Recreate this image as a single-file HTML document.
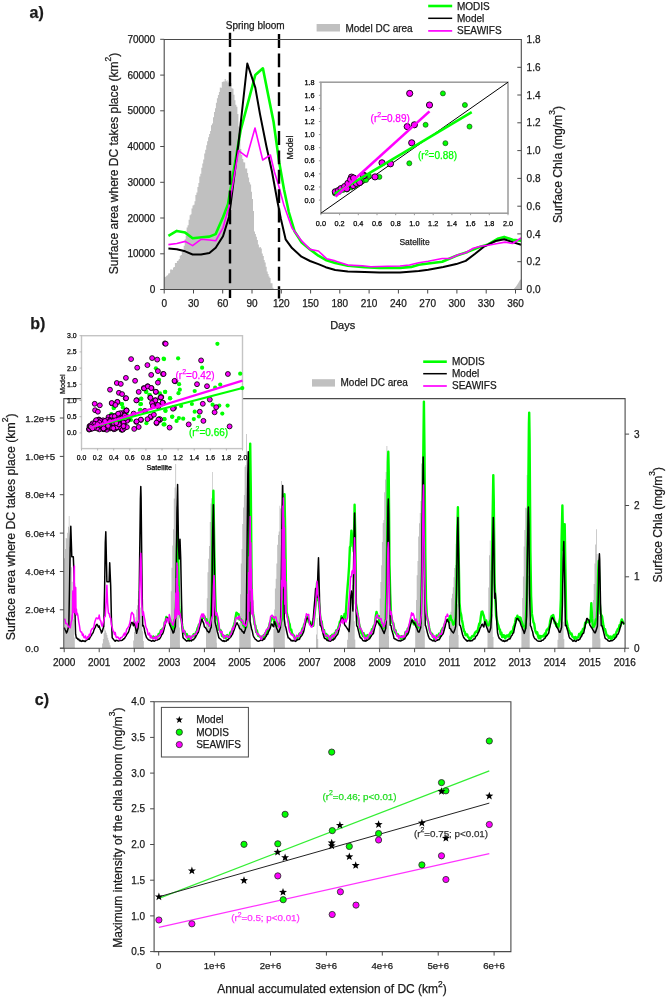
<!DOCTYPE html>
<html><head><meta charset="utf-8"><title>Figure</title>
<style>
html,body{margin:0;padding:0;background:#fff;}
body{width:666px;height:997px;overflow:hidden;}
svg{display:block;font-family:"Liberation Sans",sans-serif;will-change:transform;}
</style></head><body>
<svg width="666" height="997" viewBox="0 0 666 997">
<rect width="666" height="997" fill="#fff"/>
<text x="29.5" y="17.5" font-size="16" text-anchor="start" fill="#1a1a1a" stroke="#1a1a1a" stroke-width="0.25" font-weight="bold">a)</text>
<polygon points="164.2,289.5 164.2,277.3 165.2,277.3 165.2,276.7 166.2,276.7 166.2,275.8 167.1,275.8 167.1,275.3 168.1,275.3 168.1,273.6 169.1,273.6 169.1,273.2 170.1,273.2 170.1,269.4 171,269.4 171,269.5 172,269.5 172,269.7 173,269.7 173,267.4 174,267.4 174,267 174.9,267 174.9,263.1 175.9,263.1 175.9,263 176.9,263 176.9,260.9 177.9,260.9 177.9,260.4 178.8,260.4 178.8,259 179.8,259 179.8,255.7 180.8,255.7 180.8,254.9 181.8,254.9 181.8,252 182.7,252 182.7,250.1 183.7,250.1 183.7,245.7 184.7,245.7 184.7,239.3 185.7,239.3 185.7,235.5 186.6,235.5 186.6,227.6 187.6,227.6 187.6,225.2 188.6,225.2 188.6,219.7 189.6,219.7 189.6,215.3 190.6,215.3 190.6,214.2 191.5,214.2 191.5,208.6 192.5,208.6 192.5,205.5 193.5,205.5 193.5,204.8 194.5,204.8 194.5,201.2 195.4,201.2 195.4,194.9 196.4,194.9 196.4,192.6 197.4,192.6 197.4,186.9 198.4,186.9 198.4,182.9 199.3,182.9 199.3,176.6 200.3,176.6 200.3,173.7 201.3,173.7 201.3,167.7 202.3,167.7 202.3,163.6 203.2,163.6 203.2,159.4 204.2,159.4 204.2,153.6 205.2,153.6 205.2,149.8 206.2,149.8 206.2,145.3 207.1,145.3 207.1,141.3 208.1,141.3 208.1,137.2 209.1,137.2 209.1,134 210.1,134 210.1,131.1 211,131.1 211,125.3 212,125.3 212,123.5 213,123.5 213,117.2 214,117.2 214,111.9 215,111.9 215,108.3 215.9,108.3 215.9,102.8 216.9,102.8 216.9,98.3 217.9,98.3 217.9,95 218.9,95 218.9,92.1 219.8,92.1 219.8,87.4 220.8,87.4 220.8,87.7 221.8,87.7 221.8,82 222.8,82 222.8,81.6 223.7,81.6 223.7,81.5 224.7,81.5 224.7,78.9 225.7,78.9 225.7,81.3 226.7,81.3 226.7,80.3 227.6,80.3 227.6,82.5 228.6,82.5 228.6,81.3 229.6,81.3 229.6,82 230.6,82 230.6,83.1 231.5,83.1 231.5,88.2 232.5,88.2 232.5,88.7 233.5,88.7 233.5,94.8 234.5,94.8 234.5,100.3 235.4,100.3 235.4,104.7 236.4,104.7 236.4,106.7 237.4,106.7 237.4,113.9 238.4,113.9 238.4,126.4 239.4,126.4 239.4,139.2 240.3,139.2 240.3,149.1 241.3,149.1 241.3,155.1 242.3,155.1 242.3,159.1 243.3,159.1 243.3,162.2 244.2,162.2 244.2,162.5 245.2,162.5 245.2,168.4 246.2,168.4 246.2,168.6 247.2,168.6 247.2,172.9 248.1,172.9 248.1,177.5 249.1,177.5 249.1,182.3 250.1,182.3 250.1,184.4 251.1,184.4 251.1,191.7 252,191.7 252,199.1 253,199.1 253,210.9 254,210.9 254,231.6 255,231.6 255,234.1 255.9,234.1 255.9,236.7 256.9,236.7 256.9,239.9 257.9,239.9 257.9,244.6 258.9,244.6 258.9,247.6 259.8,247.6 259.8,246.9 260.8,246.9 260.8,248.5 261.8,248.5 261.8,253.4 262.8,253.4 262.8,256 263.8,256 263.8,260 264.7,260 264.7,262.4 265.7,262.4 265.7,266.8 266.7,266.8 266.7,271.5 267.7,271.5 267.7,274 268.6,274 268.6,276.5 269.6,276.5 269.6,277.9 270.6,277.9 270.6,283.2 271.6,283.2 271.6,283.2 272.5,283.2 272.5,287.7 273.5,287.7 273.5,289.2 274,289.2 274,289.5" fill="#c0c0c0"/>
<polygon points="513.4,289.5 516,286.5 518,283.5 520,280 521.3,279 521.3,289.5" fill="#c0c0c0"/>
<polyline points="168.4,235.8 176.8,230.9 185.2,232.6 192.6,238.3 202,237.2 209.4,236.6 215.7,234.1 223,217.3 228,204.3 240.6,130.5 255.3,75 262.9,68.3 267.2,90 273.6,122.1 279.2,162.2 284,189.5 288.8,212 294.5,231.2 301.7,242.5 310,249.4 318.4,255.7 325.7,259.9 335.2,263 347.8,265.8 364.6,267.2 379.3,267.9 400,267.9 411.3,266.9 418.8,264.7 428.2,263.5 442.2,261.7 456.3,255.7 467.6,251.9 478.8,247.2 488.2,244.4 497.6,238.8 504.2,236.9 512.6,239.7 521.1,240.6" fill="none" stroke="#00ff00" stroke-width="2.6" stroke-linejoin="round"/>
<polyline points="168.4,248.4 176.8,249.2 185.2,251.3 192.6,254.5 201,254.5 209.4,253 215.7,247.7 223,236.2 229,217 238.5,143.2 247.3,63.5 255.3,87.6 260,114.1 266.4,146.2 272,171.8 277.6,202.3 280.8,218.4 285.6,239.3 292,248.1 301.5,256.7 310,261 318.4,264.1 325.7,267.2 335.2,270 347.8,271.4 364.6,271.9 379.3,272.5 400,272.6 418.8,271 428.2,269.7 443.2,266.9 456.3,264.1 465.7,260.9 475.1,253.8 484.5,246.3 495.7,241 504.2,239.3 512.6,242.1 521.1,244.8" fill="none" stroke="#000" stroke-width="2.0" stroke-linejoin="round"/>
<polyline points="168.4,244.6 176.8,243.5 185.2,241.4 192.6,245.6 201,239.3 209.4,240 215.7,240.8 223,227.8 229,206.4 238.5,150.6 246.9,156.9 255,128 262.7,160 270.4,155 274.4,171.8 278.4,184.7 284,205.6 292,228 301.7,240.9 310,249.4 318.4,251 326.8,258.8 335.2,260.9 347.8,265.1 362.5,265.8 370.9,266.8 387.7,266.2 400,266 409.4,265 418.8,262.8 428.2,261.3 442.2,258.5 449.7,258.5 458.2,254.7 465.7,252.8 473.2,248.2 480.7,246.3 488.2,245.3 497.6,243.5 505.1,242.1 512.6,243.5 521.1,237.8" fill="none" stroke="#ff00ff" stroke-width="1.6" stroke-linejoin="round"/>
<line x1="230" y1="32.8" x2="230" y2="298" stroke="#000" stroke-width="2.4" stroke-dasharray="14.1 5.6"/>
<line x1="279" y1="34" x2="279" y2="298.5" stroke="#000" stroke-width="2.4" stroke-dasharray="13.9 5.5"/>
<text x="255.2" y="29" font-size="10" text-anchor="middle" fill="#1a1a1a" stroke="#1a1a1a" stroke-width="0.25">Spring bloom</text>
<path d="M164.2 39.5 H521.3 V289.5 H164.2 Z" fill="none" stroke="#4a4a4a" stroke-width="1.1"/>
<line x1="160.2" y1="289.5" x2="164.2" y2="289.5" stroke="#4a4a4a" stroke-width="1"/>
<text x="155.2" y="293.1" font-size="10" text-anchor="end" fill="#1a1a1a" stroke="#1a1a1a" stroke-width="0.25">0</text>
<line x1="160.2" y1="253.8" x2="164.2" y2="253.8" stroke="#4a4a4a" stroke-width="1"/>
<text x="155.2" y="257.4" font-size="10" text-anchor="end" fill="#1a1a1a" stroke="#1a1a1a" stroke-width="0.25">10000</text>
<line x1="160.2" y1="218" x2="164.2" y2="218" stroke="#4a4a4a" stroke-width="1"/>
<text x="155.2" y="221.6" font-size="10" text-anchor="end" fill="#1a1a1a" stroke="#1a1a1a" stroke-width="0.25">20000</text>
<line x1="160.2" y1="182.3" x2="164.2" y2="182.3" stroke="#4a4a4a" stroke-width="1"/>
<text x="155.2" y="185.9" font-size="10" text-anchor="end" fill="#1a1a1a" stroke="#1a1a1a" stroke-width="0.25">30000</text>
<line x1="160.2" y1="146.5" x2="164.2" y2="146.5" stroke="#4a4a4a" stroke-width="1"/>
<text x="155.2" y="150.1" font-size="10" text-anchor="end" fill="#1a1a1a" stroke="#1a1a1a" stroke-width="0.25">40000</text>
<line x1="160.2" y1="110.8" x2="164.2" y2="110.8" stroke="#4a4a4a" stroke-width="1"/>
<text x="155.2" y="114.4" font-size="10" text-anchor="end" fill="#1a1a1a" stroke="#1a1a1a" stroke-width="0.25">50000</text>
<line x1="160.2" y1="75.1" x2="164.2" y2="75.1" stroke="#4a4a4a" stroke-width="1"/>
<text x="155.2" y="78.7" font-size="10" text-anchor="end" fill="#1a1a1a" stroke="#1a1a1a" stroke-width="0.25">60000</text>
<line x1="160.2" y1="39.3" x2="164.2" y2="39.3" stroke="#4a4a4a" stroke-width="1"/>
<text x="155.2" y="42.9" font-size="10" text-anchor="end" fill="#1a1a1a" stroke="#1a1a1a" stroke-width="0.25">70000</text>
<line x1="517.3" y1="289.5" x2="521.3" y2="289.5" stroke="#4a4a4a" stroke-width="1"/>
<text x="526.6" y="293.1" font-size="10" text-anchor="start" fill="#1a1a1a" stroke="#1a1a1a" stroke-width="0.25">0.0</text>
<line x1="517.3" y1="261.7" x2="521.3" y2="261.7" stroke="#4a4a4a" stroke-width="1"/>
<text x="526.6" y="265.3" font-size="10" text-anchor="start" fill="#1a1a1a" stroke="#1a1a1a" stroke-width="0.25">0.2</text>
<line x1="517.3" y1="233.9" x2="521.3" y2="233.9" stroke="#4a4a4a" stroke-width="1"/>
<text x="526.6" y="237.5" font-size="10" text-anchor="start" fill="#1a1a1a" stroke="#1a1a1a" stroke-width="0.25">0.4</text>
<line x1="517.3" y1="206.2" x2="521.3" y2="206.2" stroke="#4a4a4a" stroke-width="1"/>
<text x="526.6" y="209.8" font-size="10" text-anchor="start" fill="#1a1a1a" stroke="#1a1a1a" stroke-width="0.25">0.6</text>
<line x1="517.3" y1="178.4" x2="521.3" y2="178.4" stroke="#4a4a4a" stroke-width="1"/>
<text x="526.6" y="182" font-size="10" text-anchor="start" fill="#1a1a1a" stroke="#1a1a1a" stroke-width="0.25">0.8</text>
<line x1="517.3" y1="150.6" x2="521.3" y2="150.6" stroke="#4a4a4a" stroke-width="1"/>
<text x="526.6" y="154.2" font-size="10" text-anchor="start" fill="#1a1a1a" stroke="#1a1a1a" stroke-width="0.25">1.0</text>
<line x1="517.3" y1="122.8" x2="521.3" y2="122.8" stroke="#4a4a4a" stroke-width="1"/>
<text x="526.6" y="126.4" font-size="10" text-anchor="start" fill="#1a1a1a" stroke="#1a1a1a" stroke-width="0.25">1.2</text>
<line x1="517.3" y1="95" x2="521.3" y2="95" stroke="#4a4a4a" stroke-width="1"/>
<text x="526.6" y="98.6" font-size="10" text-anchor="start" fill="#1a1a1a" stroke="#1a1a1a" stroke-width="0.25">1.4</text>
<line x1="517.3" y1="67.3" x2="521.3" y2="67.3" stroke="#4a4a4a" stroke-width="1"/>
<text x="526.6" y="70.9" font-size="10" text-anchor="start" fill="#1a1a1a" stroke="#1a1a1a" stroke-width="0.25">1.6</text>
<line x1="517.3" y1="39.5" x2="521.3" y2="39.5" stroke="#4a4a4a" stroke-width="1"/>
<text x="526.6" y="43.1" font-size="10" text-anchor="start" fill="#1a1a1a" stroke="#1a1a1a" stroke-width="0.25">1.8</text>
<line x1="164.2" y1="289.5" x2="164.2" y2="293.5" stroke="#4a4a4a" stroke-width="1"/>
<text x="164.2" y="307.2" font-size="10" text-anchor="middle" fill="#1a1a1a" stroke="#1a1a1a" stroke-width="0.25">0</text>
<line x1="193.5" y1="289.5" x2="193.5" y2="293.5" stroke="#4a4a4a" stroke-width="1"/>
<text x="193.5" y="307.2" font-size="10" text-anchor="middle" fill="#1a1a1a" stroke="#1a1a1a" stroke-width="0.25">30</text>
<line x1="222.7" y1="289.5" x2="222.7" y2="293.5" stroke="#4a4a4a" stroke-width="1"/>
<text x="222.7" y="307.2" font-size="10" text-anchor="middle" fill="#1a1a1a" stroke="#1a1a1a" stroke-width="0.25">60</text>
<line x1="252" y1="289.5" x2="252" y2="293.5" stroke="#4a4a4a" stroke-width="1"/>
<text x="252" y="307.2" font-size="10" text-anchor="middle" fill="#1a1a1a" stroke="#1a1a1a" stroke-width="0.25">90</text>
<line x1="281.3" y1="289.5" x2="281.3" y2="293.5" stroke="#4a4a4a" stroke-width="1"/>
<text x="281.3" y="307.2" font-size="10" text-anchor="middle" fill="#1a1a1a" stroke="#1a1a1a" stroke-width="0.25">120</text>
<line x1="310.6" y1="289.5" x2="310.6" y2="293.5" stroke="#4a4a4a" stroke-width="1"/>
<text x="310.6" y="307.2" font-size="10" text-anchor="middle" fill="#1a1a1a" stroke="#1a1a1a" stroke-width="0.25">150</text>
<line x1="339.8" y1="289.5" x2="339.8" y2="293.5" stroke="#4a4a4a" stroke-width="1"/>
<text x="339.8" y="307.2" font-size="10" text-anchor="middle" fill="#1a1a1a" stroke="#1a1a1a" stroke-width="0.25">180</text>
<line x1="369.1" y1="289.5" x2="369.1" y2="293.5" stroke="#4a4a4a" stroke-width="1"/>
<text x="369.1" y="307.2" font-size="10" text-anchor="middle" fill="#1a1a1a" stroke="#1a1a1a" stroke-width="0.25">210</text>
<line x1="398.4" y1="289.5" x2="398.4" y2="293.5" stroke="#4a4a4a" stroke-width="1"/>
<text x="398.4" y="307.2" font-size="10" text-anchor="middle" fill="#1a1a1a" stroke="#1a1a1a" stroke-width="0.25">240</text>
<line x1="427.7" y1="289.5" x2="427.7" y2="293.5" stroke="#4a4a4a" stroke-width="1"/>
<text x="427.7" y="307.2" font-size="10" text-anchor="middle" fill="#1a1a1a" stroke="#1a1a1a" stroke-width="0.25">270</text>
<line x1="456.9" y1="289.5" x2="456.9" y2="293.5" stroke="#4a4a4a" stroke-width="1"/>
<text x="456.9" y="307.2" font-size="10" text-anchor="middle" fill="#1a1a1a" stroke="#1a1a1a" stroke-width="0.25">300</text>
<line x1="486.2" y1="289.5" x2="486.2" y2="293.5" stroke="#4a4a4a" stroke-width="1"/>
<text x="486.2" y="307.2" font-size="10" text-anchor="middle" fill="#1a1a1a" stroke="#1a1a1a" stroke-width="0.25">330</text>
<line x1="515.5" y1="289.5" x2="515.5" y2="293.5" stroke="#4a4a4a" stroke-width="1"/>
<text x="515.5" y="307.2" font-size="10" text-anchor="middle" fill="#1a1a1a" stroke="#1a1a1a" stroke-width="0.25">360</text>
<text x="342.7" y="328.5" font-size="11" text-anchor="middle" fill="#1a1a1a" stroke="#1a1a1a" stroke-width="0.25">Days</text>
<text x="114.2" y="163.5" font-size="12" text-anchor="middle" fill="#1a1a1a" stroke="#1a1a1a" stroke-width="0.25" transform="rotate(-90 114.2 163.5)" dominant-baseline="central">Surface area where DC takes place (km<tspan font-size="0.7em" dy="-0.7em">2</tspan><tspan dy="0.49em">)</tspan></text>
<text x="557.8" y="164.5" font-size="12.2" text-anchor="middle" fill="#1a1a1a" stroke="#1a1a1a" stroke-width="0.25" transform="rotate(-90 557.8 164.5)" dominant-baseline="central">Surface Chla (mg/m<tspan font-size="0.7em" dy="-0.7em">3</tspan><tspan dy="0.49em">)</tspan></text>
<rect x="316.6" y="24" width="23.4" height="7.5" fill="#c0c0c0"/>
<text x="345.4" y="31.5" font-size="10" text-anchor="start" fill="#1a1a1a" stroke="#1a1a1a" stroke-width="0.25">Model DC area</text>
<line x1="428.2" y1="6" x2="452.2" y2="6" stroke="#00ff00" stroke-width="2.6"/>
<line x1="428.2" y1="18.3" x2="452.2" y2="18.3" stroke="#000" stroke-width="1.5"/>
<line x1="428.2" y1="30.9" x2="452.2" y2="30.9" stroke="#ff00ff" stroke-width="1.7"/>
<text x="457" y="9.5" font-size="10" text-anchor="start" fill="#1a1a1a" stroke="#1a1a1a" stroke-width="0.25">MODIS</text>
<text x="457" y="21.7" font-size="10" text-anchor="start" fill="#1a1a1a" stroke="#1a1a1a" stroke-width="0.25">Model</text>
<text x="457" y="34.1" font-size="10" text-anchor="start" fill="#1a1a1a" stroke="#1a1a1a" stroke-width="0.25">SEAWIFS</text>
<rect x="320.9" y="82.2" width="187.1" height="131" fill="#fff" stroke="#9a9a9a" stroke-width="1.5"/>
<line x1="318.9" y1="200.1" x2="320.9" y2="200.1" stroke="#9a9a9a" stroke-width="1"/>
<text x="314.6" y="202.7" font-size="7.3" text-anchor="end" fill="#000" stroke="#000" stroke-width="0.25">0.0</text>
<line x1="318.9" y1="187" x2="320.9" y2="187" stroke="#9a9a9a" stroke-width="1"/>
<text x="314.6" y="189.6" font-size="7.3" text-anchor="end" fill="#000" stroke="#000" stroke-width="0.25">0.2</text>
<line x1="318.9" y1="173.9" x2="320.9" y2="173.9" stroke="#9a9a9a" stroke-width="1"/>
<text x="314.6" y="176.5" font-size="7.3" text-anchor="end" fill="#000" stroke="#000" stroke-width="0.25">0.4</text>
<line x1="318.9" y1="160.8" x2="320.9" y2="160.8" stroke="#9a9a9a" stroke-width="1"/>
<text x="314.6" y="163.4" font-size="7.3" text-anchor="end" fill="#000" stroke="#000" stroke-width="0.25">0.6</text>
<line x1="318.9" y1="147.7" x2="320.9" y2="147.7" stroke="#9a9a9a" stroke-width="1"/>
<text x="314.6" y="150.3" font-size="7.3" text-anchor="end" fill="#000" stroke="#000" stroke-width="0.25">0.8</text>
<line x1="318.9" y1="134.6" x2="320.9" y2="134.6" stroke="#9a9a9a" stroke-width="1"/>
<text x="314.6" y="137.2" font-size="7.3" text-anchor="end" fill="#000" stroke="#000" stroke-width="0.25">1.0</text>
<line x1="318.9" y1="121.5" x2="320.9" y2="121.5" stroke="#9a9a9a" stroke-width="1"/>
<text x="314.6" y="124.1" font-size="7.3" text-anchor="end" fill="#000" stroke="#000" stroke-width="0.25">1.2</text>
<line x1="318.9" y1="108.4" x2="320.9" y2="108.4" stroke="#9a9a9a" stroke-width="1"/>
<text x="314.6" y="111" font-size="7.3" text-anchor="end" fill="#000" stroke="#000" stroke-width="0.25">1.4</text>
<line x1="318.9" y1="95.3" x2="320.9" y2="95.3" stroke="#9a9a9a" stroke-width="1"/>
<text x="314.6" y="97.9" font-size="7.3" text-anchor="end" fill="#000" stroke="#000" stroke-width="0.25">1.6</text>
<line x1="318.9" y1="82.2" x2="320.9" y2="82.2" stroke="#9a9a9a" stroke-width="1"/>
<text x="314.6" y="84.8" font-size="7.3" text-anchor="end" fill="#000" stroke="#000" stroke-width="0.25">1.8</text>
<line x1="320.9" y1="213.2" x2="320.9" y2="215.2" stroke="#9a9a9a" stroke-width="1"/>
<text x="320.9" y="226" font-size="7.3" text-anchor="middle" fill="#000" stroke="#000" stroke-width="0.25">0.0</text>
<line x1="339.6" y1="213.2" x2="339.6" y2="215.2" stroke="#9a9a9a" stroke-width="1"/>
<text x="339.6" y="226" font-size="7.3" text-anchor="middle" fill="#000" stroke="#000" stroke-width="0.25">0.2</text>
<line x1="358.3" y1="213.2" x2="358.3" y2="215.2" stroke="#9a9a9a" stroke-width="1"/>
<text x="358.3" y="226" font-size="7.3" text-anchor="middle" fill="#000" stroke="#000" stroke-width="0.25">0.4</text>
<line x1="377" y1="213.2" x2="377" y2="215.2" stroke="#9a9a9a" stroke-width="1"/>
<text x="377" y="226" font-size="7.3" text-anchor="middle" fill="#000" stroke="#000" stroke-width="0.25">0.6</text>
<line x1="395.7" y1="213.2" x2="395.7" y2="215.2" stroke="#9a9a9a" stroke-width="1"/>
<text x="395.7" y="226" font-size="7.3" text-anchor="middle" fill="#000" stroke="#000" stroke-width="0.25">0.8</text>
<line x1="414.4" y1="213.2" x2="414.4" y2="215.2" stroke="#9a9a9a" stroke-width="1"/>
<text x="414.4" y="226" font-size="7.3" text-anchor="middle" fill="#000" stroke="#000" stroke-width="0.25">1.0</text>
<line x1="433.2" y1="213.2" x2="433.2" y2="215.2" stroke="#9a9a9a" stroke-width="1"/>
<text x="433.2" y="226" font-size="7.3" text-anchor="middle" fill="#000" stroke="#000" stroke-width="0.25">1.2</text>
<line x1="451.9" y1="213.2" x2="451.9" y2="215.2" stroke="#9a9a9a" stroke-width="1"/>
<text x="451.9" y="226" font-size="7.3" text-anchor="middle" fill="#000" stroke="#000" stroke-width="0.25">1.4</text>
<line x1="470.6" y1="213.2" x2="470.6" y2="215.2" stroke="#9a9a9a" stroke-width="1"/>
<text x="470.6" y="226" font-size="7.3" text-anchor="middle" fill="#000" stroke="#000" stroke-width="0.25">1.6</text>
<line x1="489.3" y1="213.2" x2="489.3" y2="215.2" stroke="#9a9a9a" stroke-width="1"/>
<text x="489.3" y="226" font-size="7.3" text-anchor="middle" fill="#000" stroke="#000" stroke-width="0.25">1.8</text>
<line x1="508" y1="213.2" x2="508" y2="215.2" stroke="#9a9a9a" stroke-width="1"/>
<text x="508" y="226" font-size="7.3" text-anchor="middle" fill="#000" stroke="#000" stroke-width="0.25">2.0</text>
<text x="290.4" y="147.6" font-size="8.8" text-anchor="middle" fill="#1a1a1a" stroke="#1a1a1a" stroke-width="0.25" transform="rotate(-90 290.4 147.6)" dominant-baseline="central">Model</text>
<text x="414.5" y="245" font-size="8.5" text-anchor="middle" fill="#1a1a1a" stroke="#1a1a1a" stroke-width="0.25">Satellite</text>
<line x1="320.9" y1="213.2" x2="508" y2="82.2" stroke="#000" stroke-width="1"/>
<circle cx="335" cy="193.5" r="2.5" fill="#00ff00" stroke="#1a4a1a" stroke-width="0.7"/>
<circle cx="339" cy="192" r="2.5" fill="#00ff00" stroke="#1a4a1a" stroke-width="0.7"/>
<circle cx="343" cy="190" r="2.5" fill="#00ff00" stroke="#1a4a1a" stroke-width="0.7"/>
<circle cx="347" cy="189.5" r="2.5" fill="#00ff00" stroke="#1a4a1a" stroke-width="0.7"/>
<circle cx="351" cy="187.5" r="2.5" fill="#00ff00" stroke="#1a4a1a" stroke-width="0.7"/>
<circle cx="355" cy="186" r="2.5" fill="#00ff00" stroke="#1a4a1a" stroke-width="0.7"/>
<circle cx="359" cy="183" r="2.5" fill="#00ff00" stroke="#1a4a1a" stroke-width="0.7"/>
<circle cx="362" cy="181" r="2.5" fill="#00ff00" stroke="#1a4a1a" stroke-width="0.7"/>
<circle cx="366" cy="180" r="2.5" fill="#00ff00" stroke="#1a4a1a" stroke-width="0.7"/>
<circle cx="368.9" cy="176" r="2.5" fill="#00ff00" stroke="#1a4a1a" stroke-width="0.7"/>
<circle cx="379.4" cy="176.9" r="2.5" fill="#00ff00" stroke="#1a4a1a" stroke-width="0.7"/>
<circle cx="409.3" cy="163.3" r="2.5" fill="#00ff00" stroke="#1a4a1a" stroke-width="0.7"/>
<circle cx="442.9" cy="93.4" r="2.5" fill="#00ff00" stroke="#1a4a1a" stroke-width="0.7"/>
<circle cx="464.9" cy="105" r="2.5" fill="#00ff00" stroke="#1a4a1a" stroke-width="0.7"/>
<circle cx="425.6" cy="124.8" r="2.5" fill="#00ff00" stroke="#1a4a1a" stroke-width="0.7"/>
<circle cx="469.5" cy="126.6" r="2.5" fill="#00ff00" stroke="#1a4a1a" stroke-width="0.7"/>
<circle cx="445.4" cy="143.2" r="2.5" fill="#00ff00" stroke="#1a4a1a" stroke-width="0.7"/>
<circle cx="335.3" cy="191.8" r="3.1" fill="#ff00ff" stroke="#000" stroke-width="0.9"/>
<circle cx="338.5" cy="190.5" r="3.1" fill="#ff00ff" stroke="#000" stroke-width="0.9"/>
<circle cx="341" cy="188.6" r="3.1" fill="#ff00ff" stroke="#000" stroke-width="0.9"/>
<circle cx="344.7" cy="186.5" r="3.1" fill="#ff00ff" stroke="#000" stroke-width="0.9"/>
<circle cx="346.8" cy="188.6" r="3.1" fill="#ff00ff" stroke="#000" stroke-width="0.9"/>
<circle cx="347.9" cy="183.4" r="3.1" fill="#ff00ff" stroke="#000" stroke-width="0.9"/>
<circle cx="351.5" cy="177.1" r="3.1" fill="#ff00ff" stroke="#000" stroke-width="0.9"/>
<circle cx="350.5" cy="179.5" r="3.1" fill="#ff00ff" stroke="#000" stroke-width="0.9"/>
<circle cx="353.1" cy="185.5" r="3.1" fill="#ff00ff" stroke="#000" stroke-width="0.9"/>
<circle cx="353.6" cy="178" r="3.1" fill="#ff00ff" stroke="#000" stroke-width="0.9"/>
<circle cx="356.3" cy="183.4" r="3.1" fill="#ff00ff" stroke="#000" stroke-width="0.9"/>
<circle cx="359.7" cy="182.5" r="3.1" fill="#ff00ff" stroke="#000" stroke-width="0.9"/>
<circle cx="364.2" cy="175.5" r="3.1" fill="#ff00ff" stroke="#000" stroke-width="0.9"/>
<circle cx="363.5" cy="175.8" r="3.1" fill="#ff00ff" stroke="#000" stroke-width="0.9"/>
<circle cx="375" cy="176.9" r="3.1" fill="#ff00ff" stroke="#000" stroke-width="0.9"/>
<circle cx="409.7" cy="93.4" r="3.1" fill="#ff00ff" stroke="#000" stroke-width="0.9"/>
<circle cx="429.5" cy="105" r="3.1" fill="#ff00ff" stroke="#000" stroke-width="0.9"/>
<circle cx="407.2" cy="126.6" r="3.1" fill="#ff00ff" stroke="#000" stroke-width="0.9"/>
<circle cx="414.4" cy="124.8" r="3.1" fill="#ff00ff" stroke="#000" stroke-width="0.9"/>
<circle cx="411.7" cy="142.8" r="3.1" fill="#ff00ff" stroke="#000" stroke-width="0.9"/>
<circle cx="382" cy="162.8" r="3.1" fill="#ff00ff" stroke="#000" stroke-width="0.9"/>
<circle cx="390.5" cy="163.8" r="3.1" fill="#ff00ff" stroke="#000" stroke-width="0.9"/>
<line x1="334.5" y1="193.8" x2="471.7" y2="112.2" stroke="#00ff00" stroke-width="2.6"/>
<line x1="335.6" y1="196.5" x2="429.5" y2="111.4" stroke="#ff00ff" stroke-width="2.6"/>
<text x="390.2" y="122.3" font-size="10" text-anchor="middle" fill="#ff00ff" stroke="#ff00ff" stroke-width="0.25">(r<tspan font-size="0.7em" dy="-0.7em">2</tspan><tspan dy="0.49em">=0.89)</tspan></text>
<text x="437.6" y="159.4" font-size="10" text-anchor="middle" fill="#00ff00" stroke="#00ff00" stroke-width="0.25">(r<tspan font-size="0.7em" dy="-0.7em">2</tspan><tspan dy="0.49em">=0.88)</tspan></text>
<text x="30.2" y="328.5" font-size="16" text-anchor="start" fill="#1a1a1a" stroke="#1a1a1a" stroke-width="0.25" font-weight="bold">b)</text>
<polygon points="64.2,648.2 64.2,558.2 65,558.2 65,549 65.7,549 65.7,537.9 66.5,537.9 66.5,538.5 67.2,538.5 67.2,532.8 68,532.8 68,526.8 68.8,526.8 68.8,516 69.5,516 69.5,546.8 70.3,546.8 70.3,554.5 71,554.5 71,567.3 71.8,567.3 71.8,581.7 72.6,581.7 72.6,603.2 73.3,603.2 73.3,619.2 74.1,619.2 74.1,637.6 74.8,637.6 74.8,647.4 74.9,647.4 74.9,648.2" fill="#c0c0c0"/>
<polygon points="102.1,648.2 102.1,643.5 102.9,643.5 102.9,638.9 103.6,638.9 103.6,633.2 104.4,633.2 104.4,628 105.1,628 105.1,630.5 105.9,630.5 105.9,632.8 106.7,632.8 106.7,634.9 107.4,634.9 107.4,637.8 108.2,637.8 108.2,640.3 108.9,640.3 108.9,642.4 109.7,642.4 109.7,645.3 110.5,645.3 110.5,647.4 110.9,647.4 110.9,648.2" fill="#c0c0c0"/>
<polygon points="133.2,648.2 133.2,640.5 134,640.5 134,632 134.7,632 134.7,623.7 135.5,623.7 135.5,617.3 136.2,617.3 136.2,609.4 137,609.4 137,605.3 137.8,605.3 137.8,599.3 138.5,599.3 138.5,591 139.3,591 139.3,602.3 140,602.3 140,607.5 140.8,607.5 140.8,615.7 141.6,615.7 141.6,624.2 142.3,624.2 142.3,631.2 143.1,631.2 143.1,640.9 143.8,640.9 143.8,647.1 144,647.1 144,648.2" fill="#c0c0c0"/>
<polygon points="170,648.2 170,620.5 170.8,620.5 170.8,591.3 171.5,591.3 171.5,567.7 172.3,567.7 172.3,545.6 173,545.6 173,529.3 173.8,529.3 173.8,498.5 174.6,498.5 174.6,487.6 175.3,487.6 175.3,464 176.1,464 176.1,506.5 176.8,506.5 176.8,538.2 177.6,538.2 177.6,559.1 178.4,559.1 178.4,591.6 179.1,591.6 179.1,627.5 179.9,627.5 179.9,645.6 180,645.6 180,648.2" fill="#c0c0c0"/>
<polygon points="206,648.2 206,623.8 206.8,623.8 206.8,598.3 207.5,598.3 207.5,572.2 208.3,572.2 208.3,558.8 209,558.8 209,546.1 209.8,546.1 209.8,521.9 210.6,521.9 210.6,503.5 211.3,503.5 211.3,498.3 212.1,498.3 212.1,472 212.8,472 212.8,521.7 213.6,521.7 213.6,539.3 214.4,539.3 214.4,557.6 215.1,557.6 215.1,589 215.9,589 215.9,622.5 216.6,622.5 216.6,642.8 216.9,642.8 216.9,648.2" fill="#c0c0c0"/>
<polygon points="239.3,648.2 239.3,623.1 240.1,623.1 240.1,594.3 240.8,594.3 240.8,563.5 241.6,563.5 241.6,549.1 242.3,549.1 242.3,524.1 243.1,524.1 243.1,507.4 243.9,507.4 243.9,495.1 244.6,495.1 244.6,466.8 245.4,466.8 245.4,465 246.1,465 246.1,434 246.9,434 246.9,488.2 247.7,488.2 247.7,525.6 248.4,525.6 248.4,552.2 249.2,552.2 249.2,588.4 249.9,588.4 249.9,624.2 250.7,624.2 250.7,645.4 250.8,645.4 250.8,648.2" fill="#c0c0c0"/>
<polygon points="273.4,648.2 273.4,629 274.2,629 274.2,609.4 274.9,609.4 274.9,588.4 275.7,588.4 275.7,578.8 276.4,578.8 276.4,563.4 277.2,563.4 277.2,544.8 278,544.8 278,535 278.7,535 278.7,531.6 279.5,531.6 279.5,505.7 280.2,505.7 280.2,508.5 281,508.5 281,481 281.8,481 281.8,524.1 282.5,524.1 282.5,545.8 283.3,545.8 283.3,585.2 284,585.2 284,622.9 284.8,622.9 284.8,645.6 284.9,645.6 284.9,648.2" fill="#c0c0c0"/>
<polygon points="316,648.2 316,634.5 316.8,634.5 316.8,618 317.5,618 317.5,638.9 318.2,638.9 318.2,648.2" fill="#c0c0c0"/>
<polygon points="347.1,648.2 347.1,639.8 347.9,639.8 347.9,629.2 348.6,629.2 348.6,621.8 349.4,621.8 349.4,614.4 350.1,614.4 350.1,605.3 350.9,605.3 350.9,601.6 351.7,601.6 351.7,595.2 352.4,595.2 352.4,585 353.2,585 353.2,600.1 353.9,600.1 353.9,621.2 354.7,621.2 354.7,639.5 355.3,639.5 355.3,648.2" fill="#c0c0c0"/>
<polygon points="378.9,648.2 378.9,624.9 379.7,624.9 379.7,598.5 380.4,598.5 380.4,582.1 381.2,582.1 381.2,565.2 381.9,565.2 381.9,541.9 382.7,541.9 382.7,522.9 383.5,522.9 383.5,520 384.2,520 384.2,492.3 385,492.3 385,479.4 385.7,479.4 385.7,471.9 386.5,471.9 386.5,445.9 387.3,445.9 387.3,508.8 388,508.8 388,583.5 388.8,583.5 388.8,635.9 389,635.9 389,648.2" fill="#c0c0c0"/>
<polygon points="415.2,648.2 415.2,623.8 416,623.8 416,600.1 416.7,600.1 416.7,575.2 417.5,575.2 417.5,561 418.2,561 418.2,536.5 419,536.5 419,523.2 419.8,523.2 419.8,513 420.5,513 420.5,501.1 421.3,501.1 421.3,463.5 422,463.5 422,497.9 422.8,497.9 422.8,546.3 423.6,546.3 423.6,589.7 424.3,589.7 424.3,630.5 424.8,630.5 424.8,648.2" fill="#c0c0c0"/>
<polygon points="449,648.2 449,635.5 449.8,635.5 449.8,621.6 450.5,621.6 450.5,611.8 451.3,611.8 451.3,598.3 452,598.3 452,593.8 452.8,593.8 452.8,587.2 453.6,587.2 453.6,577.2 454.3,577.2 454.3,567.9 455.1,567.9 455.1,564.9 455.8,564.9 455.8,544 456.6,544 456.6,574.5 457.4,574.5 457.4,604.3 458.1,604.3 458.1,634.9 458.6,634.9 458.6,648.2" fill="#c0c0c0"/>
<polygon points="487.5,648.2 487.5,620.9 488.3,620.9 488.3,587.4 489,587.4 489,555.3 489.8,555.3 489.8,540.6 490.5,540.6 490.5,570.3 491.3,570.3 491.3,592.6 492.1,592.6 492.1,614.3 492.8,614.3 492.8,637.1 493.5,637.1 493.5,648.2" fill="#c0c0c0"/>
<polygon points="521.4,648.2 521.4,624.6 522.2,624.6 522.2,598 522.9,598 522.9,576.5 523.7,576.5 523.7,546.5 524.4,546.5 524.4,530 525.2,530 525.2,507.8 526,507.8 526,508.3 526.7,508.3 526.7,475.1 527.5,475.1 527.5,530.3 528.2,530.3 528.2,575.7 529,575.7 529,622.8 529.7,622.8 529.7,648.2" fill="#c0c0c0"/>
<polygon points="557.5,648.2 557.5,639.7 558.3,639.7 558.3,628.2 559,628.2 559,622.8 559.8,622.8 559.8,614 560.5,614 560.5,606.5 561.3,606.5 561.3,596 562.1,596 562.1,606.3 562.8,606.3 562.8,621.7 563.6,621.7 563.6,639 564.3,639 564.3,648.2" fill="#c0c0c0"/>
<polygon points="592.2,648.2 592.2,626.2 593,626.2 593,600.1 593.7,600.1 593.7,584.1 594.5,584.1 594.5,563.6 595.2,563.6 595.2,544.6 596,544.6 596,529.2 596.8,529.2 596.8,554.1 597.5,554.1 597.5,576.3 598.3,576.3 598.3,593.5 599,593.5 599,616 599.8,616 599.8,638.4 600.4,638.4 600.4,648.2" fill="#c0c0c0"/>
<polyline points="152.6,639 153.3,636.5 154.1,637.9 154.8,637.3 155.6,637.7 156.4,638.2 157.1,636.5 157.9,636.5 158.7,633.9 159.4,634.4 160.2,632.9 160.9,630.3 161.7,632 162.5,628.9 163.2,628.5 164,627.6 164.7,622.3 165.5,622.1 166.3,617 167,618.6 167.8,618.1 168.6,618.9 169.3,621 170.1,619.6 170.8,624.2 171.6,625.1 172.4,624.8 173.1,628.5 173.9,625.2 174.7,619.5 175.4,618.1 176.2,598.7 176.9,547.9 177.6,526.3 178.5,572.3 179.2,607 180,614.5 180.7,617.1 181.5,620.4 182.3,625.7 183,629.2 183.8,632.7 184.6,631.4 185.3,634.2 186.1,634.9 186.8,634.1 187.6,636.9 188.4,639 189.1,638.3 189.9,636.6 190.6,640 191.4,637.3 192.2,636.7 192.9,636.2 193.7,634.2 194.5,636.1 195.2,635.2 196,632.3 196.7,631.8 197.5,628.3 198.3,626.8 199,624.4 199.8,624.3 200.6,621.1 201.3,619.9 202.1,618.7 202.8,617 203.6,617.8 204.4,616.3 205.1,618.7 205.9,620.5 206.6,619.3 207.4,622.8 208.2,623.2 208.9,625.5 209.7,623.5 210.5,621.5 211.2,616.7 212,579.7 212.7,518.5 213.4,490.7 214.3,550.4 215,588.3 215.8,611.3 216.5,614.4 217.3,619 218.1,623.4 218.8,629.5 219.6,630 220.4,630 221.1,631.5 221.9,635.6 222.6,636.4 223.4,636.4 224.2,637.7 224.9,636.1 225.7,638.2 226.5,635.7 227.2,635.1 228,636.2 228.7,637.9 229.5,636.5 230.3,632.5 231,632.5 231.8,630.8 232.5,629.6 233.3,627.1 234.1,624.5 234.8,622 235.6,617.3 236.4,612.6 237.1,613.2 237.9,614.3 238.6,614.2 239.4,619.5 240.2,619.4 240.9,619.2 241.7,621.7 242.4,621.3 243.2,625.3 244,626.3 244.7,627.2 245.5,625 246.3,627.2 247,621.7 247.8,602.6 248.5,570.4 249.3,505.2 250.2,443.6 250.8,489 251.6,580.9 252.3,606.5 253.1,613.7 253.9,618.3 254.6,624.4 255.4,625.7 256.2,632 256.9,630.3 257.7,634.4 258.4,635.9 259.2,636.2 260,636.7 260.7,636.6 261.5,638.9 262.3,636.6 263,638.1 263.8,635 264.5,636.9 265.3,633.2 266.1,634.2 266.8,632.9 267.6,629.9 268.3,628.1 269.1,626.5 269.9,622.6 270.6,621.5 271.4,618.9 272.2,617.4 272.9,616.8 273.7,618.7 274.4,623 275.2,623.8 276,622.3 276.7,623.3 277.5,625.7 278.2,625 279,624.1 279.8,626.2 280.5,623.7 281.3,621.1 282.1,618.7 282.8,604.3 283.6,542.4 284.5,494.2 285.1,526.3 285.9,582.2 286.6,612.2 287.4,615.6 288.2,618.6 288.9,622.5 289.7,624.2 290.4,629.8 291.2,629.5 292,633.3 292.7,634.4 293.5,635.1 294.2,636.4 295,638.6 295.8,638.4 296.5,639.5 297.3,638 298.1,636.2 298.8,635.1 299.6,633.5 300.3,634.5 301.1,633.9 301.9,630.4 302.6,628.2 303.4,627.8 304.1,624.6 304.9,623.3 305.7,619.5 306.4,617 307.2,616.5 308,618.7 308.7,622.3 309.5,622.5 310.2,621.7 311,623.6 311.8,623.9 312.5,625.6 313.3,625.8 314.1,618.8 314.8,612.7 315.6,604 316.3,594.6 317,583 317.9,600.2 318.6,599.7 319.4,608.1 320.1,615.1 320.9,621.3 321.7,621.5 322.4,627.6 323.2,630.9 324,630 324.7,634.6 325.5,635.9 326.2,633.9 327,635.1 327.8,639.2 328.5,638.3 329.3,638.5 330,637 330.8,636.1 331.6,638.3 332.3,634.8 333.1,636.7 333.9,637.5 334.6,633.2 335.4,633.7 336.1,630.4 336.9,630.5 337.7,629.5 338.4,627.3 339.2,625.3 339.9,621.5 340.7,621.5 341.5,616.3 342.2,618.9 343,620.9 343.8,618.4 344.5,614 345.3,618.9 346,610.8 346.8,597.4 347.6,586.7 348.3,578.4 349.1,566.3 349.9,547.3 350.6,545.9 351.4,530.6 352.1,540.6 352.9,538.9 353.7,551.3 354.6,504.8 355.2,533 355.9,603.2 356.7,607.7 357.5,613.8 358.2,618.1 359,623.3 359.8,626.9 360.5,629.3 361.3,633.3 362,633.1 362.8,636 363.6,633.2 364.3,636.4 365.1,635.6 365.8,640 366.6,637.8 367.4,635.1 368.1,637 368.9,637.1 369.7,635.1 370.4,634.6 371.2,633.6 371.9,629.1 372.7,630.9 373.5,626.4 374.2,626.1 375,623.2 375.8,616 376.5,611.9 377.3,614.8 378,616.8 378.8,616 379.6,624.9 380.3,622.4 381.1,622.9 381.8,626 382.6,624.5 383.4,628.3 384.1,627.2 384.9,624.7 385.7,618.4 386.4,586.9 387.2,536 387.9,462.8 388.3,451.8 388.7,471 389.5,565.5 390.2,593.6 391,614.5 391.7,618.1 392.5,623.4 393.3,623.3 394,627.1 394.8,632.3 395.6,630.4 396.3,634.1 397.1,635.1 397.8,634.2 398.6,635.7 399.4,636.1 400.1,637.5 400.9,638.7 401.7,636.2 402.4,638.2 403.2,637.4 403.9,637.8 404.7,635.9 405.5,632.1 406.2,633.4 407,632.8 407.7,628.8 408.5,629.5 409.3,626 410,623.6 410.8,622.2 411.6,619.6 412.3,620.9 413.1,621.5 413.8,624.3 414.6,621 415.4,624 416.1,621.8 416.9,625.6 417.6,624.5 418.4,627.4 419.2,625 419.9,624 420.7,623.4 421.5,594.2 422.2,556.6 423,479 423.9,401.6 424.5,452.7 425.3,554.7 426,599.9 426.8,615.1 427.5,619.6 428.3,621.8 429.1,627.4 429.8,630.8 430.6,632.8 431.4,634 432.1,633.7 432.9,636.9 433.6,636.2 434.4,639 435.2,637 435.9,638.9 436.7,635.5 437.5,636.6 438.2,636.7 439,633.7 439.7,636.4 440.5,635 441.3,630.7 442,629.7 442.8,628 443.5,629.8 444.3,626 445.1,622.4 445.8,621.5 446.6,619.9 447.4,620.8 448.1,619.4 448.9,622 449.6,616.9 450.4,615.8 451.2,619.9 451.9,620.1 452.7,622.3 453.4,624.7 454.2,623.4 455,621.8 455.7,616.8 456.5,589.5 457.3,530.8 457.9,507.2 458.8,562.4 459.5,602.7 460.3,611.5 461.1,614.5 461.8,619.4 462.6,623.1 463.4,627.9 464.1,631 464.9,632.2 465.6,635.2 466.4,634.4 467.2,634.5 467.9,637 468.7,637.3 469.4,639.2 470.2,639.7 471,637.9 471.7,636.8 472.5,635.9 473.3,636.3 474,635.8 474.8,633.2 475.5,632.2 476.3,631.4 477.1,632.3 477.8,629.7 478.6,626.5 479.3,623.5 480.1,622.9 480.9,616.2 481.6,611.9 482.4,611.5 483.2,614.2 483.9,616.2 484.7,620.4 485.4,622.3 486.2,620.4 487,625 487.7,625.2 488.5,625.5 489.3,624 490,621.6 490.8,619.3 491.5,604.8 492.3,537.5 493.3,475.1 493.8,502.7 494.6,583.2 495.3,597.3 496.1,615.7 496.9,620 497.6,623.5 498.4,625.4 499.2,629.1 499.9,629.5 500.7,634.3 501.4,632.6 502.2,637.1 503,636.9 503.7,635.2 504.5,635.8 505.2,638.4 506,636.8 506.8,635.5 507.5,636.4 508.3,635 509.1,636.7 509.8,633.9 510.6,632.3 511.3,631.4 512.1,632.7 512.9,630.4 513.6,626.8 514.4,625.4 515.1,622.7 515.9,618 516.7,619.2 517.4,615.8 518.2,618.9 519,620 519.7,617.3 520.5,617.8 521.2,620.8 522,622.6 522.8,624.9 523.5,626.4 524.3,626.3 525.1,628.5 525.8,622.5 526.6,600.3 527.3,571.1 528.1,510.7 528.9,424.3 529.2,412.6 529.6,438 530.4,552.2 531.1,596.2 531.9,613.9 532.7,618.4 533.4,622.1 534.2,623.7 535,629.5 535.7,631.8 536.5,633.6 537.2,632.3 538,636.1 538.8,638.2 539.5,635.8 540.3,638.5 541,636.1 541.8,636.6 542.6,636.3 543.3,635.5 544.1,636.4 544.9,633.4 545.6,635.8 546.4,630.7 547.1,629.4 547.9,629.5 548.7,627.7 549.4,626.7 550.2,621 551,617.7 551.7,615.9 552.5,616.6 553.2,615.1 554,618.4 554.8,623.3 555.5,622.5 556.3,626.1 557,624.1 557.8,627.6 558.6,626.5 559.3,622.4 560.1,618 560.9,598.6 561.6,539.6 562.4,505.5 563.1,547.6 563.9,550.7 564.7,524.3 565.4,568.7 566.2,619.3 566.9,622.4 567.7,627 568.5,629.7 569.2,631 570,633 570.8,634 571.5,633.5 572.3,636.3 573,637 573.8,637.3 574.6,638.9 575.3,636.9 576.1,638.6 576.9,637.9 577.6,637.2 578.4,637.3 579.1,633.9 579.9,633.8 580.7,635.3 581.4,631.8 582.2,632.2 582.9,629.1 583.7,628.4 584.5,627.8 585.2,622.6 586,623 586.8,622 587.5,620.9 588.3,621.5 589,622.4 589.8,622 590.6,618.4 591.3,603.1 592.1,618.4 592.8,627.1 593.6,626.8 594.4,625.4 595.1,623.6 595.9,619.1 596.7,619.3 597.4,606.2 598.2,570.9 598.7,561 599.7,602.4 600.5,613.4 601.2,614.8 602,616.3 602.7,620.9 603.5,626.1 604.3,630.2 605,629 605.8,632.1 606.6,635.3 607.3,635.3 608.1,635.9 608.8,638.1 609.6,637.2 610.4,636.5 611.1,639 611.9,636.8 612.7,637.7 613.4,635.8 614.2,634.8 614.9,637 615.7,635.1 616.5,631.7 617.2,630.6 618,628.8 618.7,629.5 619.5,625.3 620.3,626.5 621,621.9 621.8,619.4 622.6,621.5 623.3,622.3 624.1,624.6" fill="none" stroke="#00ff00" stroke-width="2.4" stroke-linejoin="round"/>
<polyline points="64.2,627.6 65,629.5 65.7,630.8 66.5,633 67.2,631.7 68,628.8 68.8,626.6 69.5,588.5 70.3,539.3 70.8,526.2 71.8,556.8 72.6,556.8 73.3,556.8 74.1,575.4 74.9,609.2 75.6,634.2 76.4,638.1 77.1,638.1 77.9,639.4 78.7,639.1 79.4,640.8 80.2,640.3 81,641.2 81.7,641.4 82.5,640.6 83.2,641.2 84,640.7 84.8,641.4 85.5,641.4 86.3,640.2 87.1,639.8 87.8,639.3 88.6,639 89.3,639.2 90.1,637.3 90.9,636 91.6,635.1 92.4,633.3 93.1,632.9 93.9,630.1 94.7,628.3 95.4,627.1 96.2,625 97,624.3 97.7,625.4 98.5,627.3 99.2,626 100,628.9 100.8,630.3 101.5,633 102.3,631.5 103,628.7 103.8,626.6 104.6,588.6 105.3,542.5 105.8,531.8 106.9,581.8 107.6,581.8 108.4,581.8 109.1,581.8 109.7,562.7 110.7,586.3 111.4,617.8 112.2,637.8 113,638.7 113.7,639.6 114.5,640.6 115.2,641.2 116,640.2 116.8,640.6 117.5,640.5 118.3,641.1 119,640.9 119.8,640.5 120.6,640.5 121.3,640.4 122.1,640.3 122.9,639.7 123.6,638.8 124.4,638.8 125.1,637.3 125.9,636.1 126.7,634.6 127.4,633.5 128.2,632.8 128.9,630.8 129.7,628.1 130.5,625.5 131.2,622.9 132,622.4 132.8,623.7 133.5,625.7 134.3,621.4 135,625.1 135.8,629.2 136.6,633.3 137.3,630.5 138.1,628.1 138.9,618.3 139.6,561.8 140.4,498.9 140.8,486.4 141.1,497.7 141.9,573.3 142.7,625.9 143.4,625.6 144.2,628.4 144.9,632.3 145.7,635 146.5,637.4 147.2,638.4 148,639.4 148.8,640 149.5,640.2 150.3,640.4 151,640.8 151.8,641.3 152.6,640.5 153.3,640.6 154.1,641.3 154.8,640.9 155.6,640.4 156.4,640 157.1,640 157.9,639.7 158.7,639.2 159.4,639.1 160.2,637.8 160.9,636.6 161.7,634.8 162.5,634 163.2,632.5 164,629.4 164.7,625.8 165.5,622.8 166.3,619.4 167,617.8 167.8,619.8 168.6,621.2 169.3,623.2 170.1,625.7 170.8,627 171.6,629.1 172.4,630.7 173.1,633.1 173.9,632.2 174.7,628.6 175.4,626.4 176.2,581.7 176.9,513.4 177.6,484.4 178.5,546.3 179.2,559 180,539.2 180.7,558.3 181.5,598.6 182.3,629.9 183,637.5 183.8,638.7 184.6,639.2 185.3,639.9 186.1,640.7 186.8,641.2 187.6,640.7 188.4,640.5 189.1,641 189.9,640.5 190.6,640.4 191.4,641 192.2,640 192.9,639.8 193.7,639.7 194.5,638.2 195.2,637.8 196,636.2 196.7,634.9 197.5,633.3 198.3,632.4 199,629.8 199.8,626.6 200.6,623.9 201.3,619.9 202.1,619.5 202.8,621.7 203.6,623 204.4,626.9 205.1,627.3 205.9,628.3 206.6,629.4 207.4,631.3 208.2,631.5 208.9,632.6 209.7,631.5 210.5,628.6 211.2,627.3 212,589.9 212.7,530.1 213.4,504.8 214.3,559.1 215,621.7 215.8,625.3 216.5,627.7 217.3,631.5 218.1,634.3 218.8,637.5 219.6,638.6 220.4,638.9 221.1,639.9 221.9,640.5 222.6,641.1 223.4,640.6 224.2,641.5 224.9,640.8 225.7,641.2 226.5,641 227.2,639.6 228,640 228.7,638.8 229.5,638.3 230.3,637 231,636.7 231.8,635.1 232.5,634.3 233.3,632.1 234.1,630 234.8,627.9 235.6,625.8 236.4,623.6 237.1,622.9 237.9,624.6 238.6,625.5 239.4,628 240.2,629.1 240.9,629.2 241.7,630.3 242.4,631.7 243.2,631.7 244,633.3 244.7,631.3 245.5,629.1 246.3,617.5 247,553.7 247.8,474.1 248.3,451.8 249.3,545 250.1,621.4 250.8,625 251.6,629 252.3,631.1 253.1,635.2 253.9,637.1 254.6,638.1 255.4,639.3 256.2,639.7 256.9,640.6 257.7,641 258.4,641.2 259.2,641.1 260,640.5 260.7,640.3 261.5,640 262.3,640.5 263,639.9 263.8,638.8 264.5,639.2 265.3,637.2 266.1,636.5 266.8,634.5 267.6,634.4 268.3,632.2 269.1,630.7 269.9,628.9 270.6,626.9 271.4,623.9 272.2,624.2 272.9,625.9 273.7,626.7 274.4,621.4 275.2,623.3 276,626.1 276.7,628.3 277.5,629.9 278.2,632.2 279,631.9 279.8,629.6 280.5,627.2 281.3,580.4 282.1,512.7 282.7,485.4 283.6,549.1 284.3,619.2 285.1,625.2 285.9,627.7 286.6,631 287.4,634.6 288.2,637.8 288.9,637.9 289.7,639 290.4,639.3 291.2,640.8 292,640.4 292.7,641 293.5,640.5 294.2,640.5 295,641 295.8,641.4 296.5,640 297.3,640.1 298.1,639.2 298.8,639.5 299.6,639.1 300.3,637.1 301.1,636.4 301.9,635.4 302.6,634 303.4,632.5 304.1,629.7 304.9,625.5 305.7,622 306.4,618.3 307.2,618.1 308,618.8 308.7,619.7 309.5,621.7 310.2,623.5 311,625.7 311.8,626.5 312.5,625.5 313.3,618.2 314.1,607.9 314.8,599.9 315.6,588.5 316.3,590.6 317.1,597.4 317.9,572.9 318.5,557.8 319.4,593.3 320.1,625.2 320.9,625.9 321.7,628.1 322.4,631.4 323.2,634.3 324,637.2 324.7,638.6 325.5,638.6 326.2,639.2 327,640.4 327.8,640.3 328.5,640.9 329.3,640.6 330,641.3 330.8,641 331.6,640.1 332.3,639.7 333.1,640.2 333.9,638.7 334.6,639 335.4,637.3 336.1,636.2 336.9,635.1 337.7,634.4 338.4,632 339.2,628.7 339.9,625.3 340.7,621.7 341.5,618.5 342.2,617.8 343,619.4 343.8,620.3 344.5,624.5 345.3,625.8 346,626.6 346.8,627.8 347.6,629 348.3,630.2 349.1,631.7 349.9,619.1 350.6,596.5 351.4,591 352.1,597.5 352.9,610.9 353.7,556.9 354.6,513.1 355.2,539.6 355.9,605.8 356.7,625.8 357.5,626.8 358.2,629.8 359,633.2 359.8,636.4 360.5,637.9 361.3,638 362,639 362.8,640.5 363.6,640.7 364.3,641 365.1,640.7 365.8,641.2 366.6,640.2 367.4,640.3 368.1,639.5 368.9,638.9 369.7,638.7 370.4,637.2 371.2,636.3 371.9,634.8 372.7,634.2 373.5,633.2 374.2,629.8 375,626.5 375.8,624.3 376.5,620.9 377.3,621.1 378,622.4 378.8,623.7 379.6,624.3 380.3,625.9 381.1,626.9 381.8,628.3 382.6,630.2 383.4,631.8 384.1,633.5 384.9,630.9 385.7,628.6 386.4,617.4 387.2,563 387.9,507.4 388.3,499 388.7,513.6 389.5,585.4 390.2,625.2 391,625.6 391.7,629.5 392.5,632.4 393.3,634.9 394,638.3 394.8,638.9 395.6,639 396.3,639.8 397.1,640 397.8,640.5 398.6,640.8 399.4,640.4 400.1,641 400.9,640.9 401.7,640.3 402.4,640.2 403.2,639.8 403.9,639.1 404.7,638.9 405.5,637 406.2,636.1 407,635 407.7,634.3 408.5,632.7 409.3,629.9 410,626.8 410.8,623.9 411.6,620.6 412.3,620.2 413.1,622.1 413.8,623.2 414.6,623 415.4,625.4 416.1,626.9 416.9,628.2 417.6,630.6 418.4,632.1 419.2,632.1 419.9,629.8 420.7,627.8 421.5,598.7 422.2,523.7 423.2,457 423.7,489.6 424.5,583.7 425.3,625.1 426,626.8 426.8,630.2 427.5,633.1 428.3,635.9 429.1,637.8 429.8,638.9 430.6,639.6 431.4,639.8 432.1,640.5 432.9,640.9 433.6,640.3 434.4,640.8 435.2,641.5 435.9,641 436.7,640.2 437.5,640.3 438.2,639.4 439,639.8 439.7,638.9 440.5,637.1 441.3,636.2 442,634.8 442.8,634.2 443.5,632.6 444.3,629.6 445.1,626.9 445.8,623.4 446.6,620.5 447.4,619.5 448.1,621.4 448.9,622.6 449.6,628.3 450.4,628.6 451.2,630.3 451.9,631.3 452.7,632.3 453.4,632.9 454.2,631.2 455,629 455.7,626.4 456.5,593.8 457.3,539.3 457.9,517.4 458.8,568.6 459.5,624.9 460.3,625.6 461.1,628.4 461.8,631.4 462.6,634.7 463.4,636.8 464.1,638.1 464.9,639 465.6,639.6 466.4,640.4 467.2,641.2 467.9,640.4 468.7,640.8 469.4,640.4 470.2,641.1 471,640.7 471.7,640.8 472.5,640.6 473.3,639.2 474,638.9 474.8,638.9 475.5,637 476.3,635.9 477.1,635.3 477.8,633.7 478.6,632.1 479.3,630.6 480.1,628 480.9,626.8 481.6,624.6 482.4,624.2 483.2,626.1 483.9,627 484.7,621.5 485.4,623.1 486.2,625.8 487,627.9 487.7,629.7 488.5,631.9 489.3,632.2 490,630.5 490.8,627.8 491.5,615.5 492.3,564.7 493.3,517.6 493.8,538.4 494.6,598.2 495.3,593.3 496.1,604.4 496.9,624.7 497.6,633.1 498.4,636.2 499.2,638.1 499.9,638.8 500.7,639.7 501.4,639.7 502.2,640.8 503,641.2 503.7,640.6 504.5,641.4 505.2,641.3 506,640.5 506.8,640.9 507.5,640.1 508.3,639.3 509.1,638.9 509.8,639.1 510.6,637.6 511.3,636 512.1,635.2 512.9,633.3 513.6,632.9 514.4,628.7 515.1,625.7 515.9,622.4 516.7,618.6 517.4,618.4 518.2,619.1 519,620.6 519.7,621.1 520.5,623.4 521.2,625.6 522,627.2 522.8,629.7 523.5,631 524.3,633.4 525.1,630.5 525.8,628 526.6,616 527.3,562.7 528.1,512.6 528.4,507 528.9,524.9 529.6,594 530.4,625.6 531.1,626.8 531.9,629.8 532.7,632.1 533.4,635.8 534.2,637.6 535,638.9 535.7,639.1 536.5,640 537.2,640.6 538,641 538.8,641.3 539.5,641.2 540.3,641.3 541,641.3 541.8,640.2 542.6,640.3 543.3,639.8 544.1,638.8 544.9,638.4 545.6,637 546.4,635.8 547.1,635.5 547.9,634.1 548.7,633.1 549.4,629 550.2,625.4 551,622.2 551.7,618.5 552.5,617.6 553.2,618.9 554,620.5 554.8,621.8 555.5,623.3 556.3,625.7 557,627.6 557.8,628.5 558.6,630.5 559.3,632.3 560.1,632.2 560.9,629.7 561.6,627.2 562.4,604.8 563.1,560.3 563.8,541.5 564.7,581.9 565.4,625.8 566.2,625.2 566.9,628.3 567.7,630.7 568.5,634.1 569.2,637 570,638.4 570.8,638.9 571.5,639.3 572.3,640.4 573,641.3 573.8,640.4 574.6,640.6 575.3,641.3 576.1,641.4 576.9,640.1 577.6,639.9 578.4,640.2 579.1,639.5 579.9,639.1 580.7,637.1 581.4,636.6 582.2,634.6 582.9,633.5 583.7,633.1 584.5,629 585.2,625.9 586,622 586.8,618.4 587.5,618.5 588.3,620 589,620.1 589.8,624.8 590.6,626.2 591.3,627.3 592.1,628.3 592.8,629.6 593.6,630.9 594.4,632.5 595.1,632.9 595.9,631.1 596.7,628.5 597.4,626.2 598.2,599.5 598.9,562.2 599.4,553.8 599.7,559.2 600.5,602.5 601.2,625.8 602,625.7 602.7,628.3 603.5,631.7 604.3,634.9 605,637.9 605.8,638.8 606.6,639.2 607.3,639.8 608.1,640.8 608.8,641 609.6,641.3 610.4,640.8 611.1,640.7 611.9,640.8 612.7,640.4 613.4,639.6 614.2,639.3 614.9,638.2 615.7,637.6 616.5,636.5 617.2,634.6 618,634.2 618.7,632.5 619.5,630.2 620.3,627 621,624.7 621.8,621.8 622.6,622.2 623.3,623 624.1,624.1" fill="none" stroke="#000" stroke-width="1.5" stroke-linejoin="round"/>
<polyline points="64.2,618.8 65,619.4 65.7,623.4 66.5,623.5 67.2,624 68,625.6 68.8,627.1 69.5,627 70.3,627.7 71.1,622.3 71.8,620.1 72.2,614.8 72.5,618.4 72.8,591 73.2,612.4 73.5,591.8 73.8,612.5 74.1,568.6 74.4,566 74.4,581.5 74.8,606.4 75.1,587.1 75.4,612.9 75.7,587.4 76,614.3 76.4,609 76.7,613.3 77,615 77.3,613.3 77.9,615.8 78.7,621.6 79.4,625.4 80.2,630.8 81,632.1 81.7,632.1 82.5,635.5 83.2,634.1 84,637.6 84.8,637.7 85.5,636 86.3,639.2 87.1,638.9 87.8,636.6 88.6,637.1 89.3,634.2 90.1,635.9 90.9,630.9 91.6,629.5 92.4,628.4 93.1,628.6 93.9,626.6 94.7,622.3 95.4,620.2 96.2,617.9 97,617.9 97.7,618.8 98.5,618.6 99.2,615.1 100,619.9 100.8,621 101.5,624.7 102.3,626.4 103,623.3 103.8,620.5 104.6,616.8 105.3,616.1 106.1,601 106.9,585.3 107.6,603 108.4,613.1 109.1,613.5 109.9,617.1 110.7,618.2 111.4,624.6 112.2,627.3 113,630.8 113.7,631.4 114.5,634.5 115.2,632.4 116,637 116.8,637.6 117.5,636.9 118.3,637.4 119,638.9 119.8,639.7 120.6,637.6 121.3,637.8 122.1,637.1 122.9,636.1 123.6,634.7 124.4,633 125.1,635.5 125.9,632.9 126.7,629.1 127.4,628.5 128.2,627.1 128.9,626.1 129.7,623.6 130.5,619.4 131.2,613.8 132,612.4 132.8,613.9 133.5,614.4 134.3,621.4 135,622.8 135.8,623.9 136.6,627.3 137.3,621.8 138.1,622.4 138.9,619.6 139.6,597.5 140.4,560.6 140.8,553.2 141.1,559.8 141.9,604.2 142.7,615.3 143.4,611.8 144.2,616.8 144.9,620.1 145.7,626.3 146.5,628.5 147.2,629.7 148,634.4 148.8,635 149.5,633.1 150.3,637.9 151,635.5 151.8,637.6 152.6,638.8 153.3,638 154.1,637.4 154.8,638.8 155.6,636.3 156.4,639.4 157.1,637.5 157.9,636 158.7,636.4 159.4,634.8 160.2,635.8 160.9,630.3 161.7,632.5 162.5,630.6 163.2,628.3 164,625.9 164.7,622.1 165.5,623.9 166.3,618.6 167,618.6 167.8,620.5 168.6,622.7 169.3,614.6 170.1,617.9 170.8,621.8 171.6,622.1 172.4,624.5 173.1,625.3 173.9,621.5 174.7,619.5 174.8,618 175.1,609.5 175.4,618.2 175.8,593.1 176.1,617.3 176.4,578.4 176.7,615.6 177,562.9 177,602.4 177.4,566.2 177.7,611.1 178,586.5 178.3,614.3 178.6,592.3 179,614.2 179.3,611.6 179.6,613.5 179.9,613.1 180.7,617.9 181.5,620.8 182.3,626.2 183,632.2 183.8,630.3 184.6,631.2 185.3,634.8 186.1,636.9 186.8,637.9 187.6,636.9 188.4,635.8 189.1,637.1 189.9,636.2 190.6,639.2 191.4,638.2 192.2,635.8 192.9,635.7 193.7,636.2 194.5,634.3 195.2,634.4 196,634.3 196.7,631.4 197.5,631.6 198.3,627.8 199,625.6 199.8,621.4 200.6,617.4 201.3,615.4 202.1,613.9 202.8,617.1 203.6,613.9 204.4,617 205.1,619.7 205.9,621.9 206.6,623.7 207.4,622.2 208.2,623 208.9,625.3 209.7,626.3 210.5,624 211.2,620.1 212,617.2 212.7,616 213.5,586.3 214.1,575.6 215,606.2 215.8,615.1 216.5,612.7 217.3,615 218.1,617.9 218.8,622.8 219.6,629.8 220.4,632.7 221.1,631.8 221.9,631.3 222.6,635.9 223.4,634.6 224.2,638.3 224.9,636.5 225.7,635.9 226.5,636.8 227.2,635.6 228,637.1 228.7,637.5 229.5,637 230.3,634.2 231,634.3 231.8,631.4 232.5,627.8 233.3,629.5 234.1,626.5 234.8,623.7 235.6,618.5 236.4,617.6 237.1,617.6 237.9,619.2 238.6,616.8 239.4,616.1 240.2,619.5 240.9,620.4 241.7,620.8 242.4,620.1 243.2,624.3 244,623.1 244.7,624.6 245.5,626.3 246.3,625.4 247,620.8 247.8,620.4 248,594.2 248.3,607.4 248.6,572.5 249,611.3 249.3,556.7 249.6,587.5 249.9,539.6 250.2,516.6 250.2,541.8 250.6,590 250.9,542.8 251.2,601.3 251.5,568.9 251.8,614.1 252.2,589.5 252.5,612.8 252.8,600.8 253.1,615.9 253.9,617.5 254.6,623.4 255.4,627.6 256.2,631.2 256.9,633.4 257.7,634.7 258.4,633.9 259.2,635.6 260,636.2 260.7,638.6 261.5,639.5 262.3,636.1 263,635.7 263.8,635.6 264.5,634.9 265.3,632.9 266.1,630.3 266.8,629.4 267.6,628.7 268.3,628.7 269.1,625.9 269.9,622.2 270.6,616.5 271.4,615.7 272.2,615.2 272.9,616.5 273.7,618.3 274.4,617.5 275.2,616.7 276,617.1 276.7,621.8 277.5,622.1 278.2,624.8 279,627.2 279.8,626.1 280.5,623.1 281.3,616.8 281.3,617 281.6,580.3 281.9,600 282.3,529.4 282.6,588.3 282.9,506 283.2,585 283.5,498 283.5,586 283.9,517.7 284.2,573.6 284.5,527.7 284.8,604.3 285.1,559.2 285.5,613.1 285.8,581.7 286.1,612.4 286.4,613.1 287.4,618.2 288.2,622.1 288.9,629 289.7,632.1 290.4,632.9 291.2,634.8 292,634.9 292.7,634.2 293.5,636.7 294.2,637.5 295,639.7 295.8,638.4 296.5,635.3 297.3,636.1 298.1,636.6 298.8,635.9 299.6,633.8 300.3,632.6 301.1,633.9 301.9,630.3 302.6,630.2 303.4,628.2 304.1,625.8 304.9,621.5 305.7,617.8 306.4,613.8 307.2,614.7 308,615.3 308.7,614.4 309.5,624.8 310.2,625 311,626.7 311.8,627 312.5,626 313.3,624.9 314.1,617.9 314.8,611.2 315.6,605.3 316.3,593.2 317,581.3 317.9,594.9 318.6,597.2 319.4,605.5 320.1,614 320.9,619.8 321.7,623.6 322.4,626.7 323.2,632.6 324,630.7 324.7,634.3 325.5,636 326.2,635.3 327,635.9 327.8,636.3 328.5,635.3 329.3,639.2 330,640.1 330.8,639 331.6,635.9 332.3,637.2 333.1,634.8 333.9,636.8 334.6,635 335.4,633.8 336.1,631.1 336.9,630.8 337.7,629.5 338.4,629.1 339.2,627.3 339.9,624.1 340.7,622.8 341.5,620.9 342.2,619.1 343,623.4 343.8,621.4 344.5,619 345.3,620.8 346,622.1 346.8,619.6 347.6,617.9 348.3,608.1 349.1,600.1 349.9,590.2 350.6,576.7 351.4,576.7 352.1,571.1 352.9,570.4 353.7,573.6 354.6,537.8 355.2,559.5 355.9,608.2 356.7,611.1 357.5,615.1 358.2,616.4 359,620.6 359.8,627.8 360.5,628.2 361.3,629.6 362,630.7 362.8,633.2 363.6,635.3 364.3,637.7 365.1,639.4 365.8,637.8 366.6,637.6 367.4,638.6 368.1,636 368.9,635.1 369.7,633.2 370.4,632.2 371.2,634.1 371.9,631 372.7,629.8 373.5,628.3 374.2,625.7 375,623.3 375.8,617.3 376.5,615.9 377.3,614.6 378,618.2 378.8,617.9 379.6,618.1 380.3,619.2 381.1,618.6 381.8,623.5 382.6,622.9 383.4,627.1 384.1,625.8 384.9,624.1 385.7,620.3 386.4,619.9 387.2,587.9 387.9,548.5 388.3,542.6 388.7,552.9 389.5,603.7 390.2,614.4 391,611.4 391.7,616.1 392.5,621.2 393.3,623.4 394,628.4 394.8,630.6 395.6,631.1 396.3,632.7 397.1,636.3 397.8,635.3 398.6,638.5 399.4,635.6 400.1,636.9 400.9,636.7 401.7,637.7 402.4,635.7 403.2,637.2 403.9,635.7 404.7,636.8 405.5,632.5 406.2,630.9 407,632.3 407.7,630.8 408.5,626.6 409.3,624 410,620.1 410.8,617 411.6,612.8 412.3,615.3 413.1,613.5 413.8,615.2 414.6,619.3 415.4,620.8 416.1,618.9 416.9,621.4 417.6,624.1 418.4,625.6 419.2,626 419.9,625.8 420.7,620 421.5,613.4 422.2,569.6 423,503.5 423.5,485 424.5,562.4 425.3,603.6 426,612.2 426.8,617 427.5,618.5 428.3,622.2 429.1,626.8 429.8,630.8 430.6,633.5 431.4,633.5 432.1,635.6 432.9,637.5 433.6,635.3 434.4,637.9 435.2,636.2 435.9,639.8 436.7,637.7 437.5,637.5 438.2,635.8 439,635.7 439.7,633.4 440.5,634.3 441.3,634.3 442,630.2 442.8,629.9 443.5,626.6 444.3,624 445.1,622.4 445.8,616.4 446.6,616.5 447.4,614.1 448.1,616.2 448.9,615.8" fill="none" stroke="#ff00ff" stroke-width="1.5" stroke-linejoin="round"/>
<path d="M63.8 398.6 H625.1 V648.2 H63.8 Z" fill="none" stroke="#4a4a4a" stroke-width="1.1"/>
<line x1="60" y1="648.2" x2="63.8" y2="648.2" stroke="#4a4a4a" stroke-width="1"/>
<line x1="59.8" y1="648.2" x2="63.8" y2="648.2" stroke="#4a4a4a" stroke-width="1"/>
<text x="25.3" y="651.7" font-size="9.7" text-anchor="start" fill="#1a1a1a" stroke="#1a1a1a" stroke-width="0.25">0.0</text>
<line x1="59.8" y1="609.8" x2="63.8" y2="609.8" stroke="#4a4a4a" stroke-width="1"/>
<text x="25.3" y="613.3" font-size="9.7" text-anchor="start" fill="#1a1a1a" stroke="#1a1a1a" stroke-width="0.25">2.0e+4</text>
<line x1="59.8" y1="571.5" x2="63.8" y2="571.5" stroke="#4a4a4a" stroke-width="1"/>
<text x="25.3" y="575" font-size="9.7" text-anchor="start" fill="#1a1a1a" stroke="#1a1a1a" stroke-width="0.25">4.0e+4</text>
<line x1="59.8" y1="533.1" x2="63.8" y2="533.1" stroke="#4a4a4a" stroke-width="1"/>
<text x="25.3" y="536.6" font-size="9.7" text-anchor="start" fill="#1a1a1a" stroke="#1a1a1a" stroke-width="0.25">6.0e+4</text>
<line x1="59.8" y1="494.7" x2="63.8" y2="494.7" stroke="#4a4a4a" stroke-width="1"/>
<text x="25.3" y="498.2" font-size="9.7" text-anchor="start" fill="#1a1a1a" stroke="#1a1a1a" stroke-width="0.25">8.0e+4</text>
<line x1="59.8" y1="456.4" x2="63.8" y2="456.4" stroke="#4a4a4a" stroke-width="1"/>
<text x="25.3" y="459.9" font-size="9.7" text-anchor="start" fill="#1a1a1a" stroke="#1a1a1a" stroke-width="0.25">1.0e+5</text>
<line x1="59.8" y1="418" x2="63.8" y2="418" stroke="#4a4a4a" stroke-width="1"/>
<text x="25.3" y="421.5" font-size="9.7" text-anchor="start" fill="#1a1a1a" stroke="#1a1a1a" stroke-width="0.25">1.2e+5</text>
<line x1="625.1" y1="648.2" x2="629.1" y2="648.2" stroke="#4a4a4a" stroke-width="1"/>
<text x="634" y="651.8" font-size="10" text-anchor="start" fill="#1a1a1a" stroke="#1a1a1a" stroke-width="0.25">0</text>
<line x1="625.1" y1="576.8" x2="629.1" y2="576.8" stroke="#4a4a4a" stroke-width="1"/>
<text x="634" y="580.4" font-size="10" text-anchor="start" fill="#1a1a1a" stroke="#1a1a1a" stroke-width="0.25">1</text>
<line x1="625.1" y1="505.5" x2="629.1" y2="505.5" stroke="#4a4a4a" stroke-width="1"/>
<text x="634" y="509.1" font-size="10" text-anchor="start" fill="#1a1a1a" stroke="#1a1a1a" stroke-width="0.25">2</text>
<line x1="625.1" y1="434.1" x2="629.1" y2="434.1" stroke="#4a4a4a" stroke-width="1"/>
<text x="634" y="437.7" font-size="10" text-anchor="start" fill="#1a1a1a" stroke="#1a1a1a" stroke-width="0.25">3</text>
<line x1="64.2" y1="648.2" x2="64.2" y2="652.2" stroke="#4a4a4a" stroke-width="1"/>
<text x="64.2" y="665.6" font-size="10" text-anchor="middle" fill="#1a1a1a" stroke="#1a1a1a" stroke-width="0.25">2000</text>
<line x1="99.2" y1="648.2" x2="99.2" y2="652.2" stroke="#4a4a4a" stroke-width="1"/>
<text x="99.2" y="665.6" font-size="10" text-anchor="middle" fill="#1a1a1a" stroke="#1a1a1a" stroke-width="0.25">2001</text>
<line x1="134.3" y1="648.2" x2="134.3" y2="652.2" stroke="#4a4a4a" stroke-width="1"/>
<text x="134.3" y="665.6" font-size="10" text-anchor="middle" fill="#1a1a1a" stroke="#1a1a1a" stroke-width="0.25">2002</text>
<line x1="169.3" y1="648.2" x2="169.3" y2="652.2" stroke="#4a4a4a" stroke-width="1"/>
<text x="169.3" y="665.6" font-size="10" text-anchor="middle" fill="#1a1a1a" stroke="#1a1a1a" stroke-width="0.25">2003</text>
<line x1="204.4" y1="648.2" x2="204.4" y2="652.2" stroke="#4a4a4a" stroke-width="1"/>
<text x="204.4" y="665.6" font-size="10" text-anchor="middle" fill="#1a1a1a" stroke="#1a1a1a" stroke-width="0.25">2004</text>
<line x1="239.4" y1="648.2" x2="239.4" y2="652.2" stroke="#4a4a4a" stroke-width="1"/>
<text x="239.4" y="665.6" font-size="10" text-anchor="middle" fill="#1a1a1a" stroke="#1a1a1a" stroke-width="0.25">2005</text>
<line x1="274.4" y1="648.2" x2="274.4" y2="652.2" stroke="#4a4a4a" stroke-width="1"/>
<text x="274.4" y="665.6" font-size="10" text-anchor="middle" fill="#1a1a1a" stroke="#1a1a1a" stroke-width="0.25">2006</text>
<line x1="309.5" y1="648.2" x2="309.5" y2="652.2" stroke="#4a4a4a" stroke-width="1"/>
<text x="309.5" y="665.6" font-size="10" text-anchor="middle" fill="#1a1a1a" stroke="#1a1a1a" stroke-width="0.25">2007</text>
<line x1="344.5" y1="648.2" x2="344.5" y2="652.2" stroke="#4a4a4a" stroke-width="1"/>
<text x="344.5" y="665.6" font-size="10" text-anchor="middle" fill="#1a1a1a" stroke="#1a1a1a" stroke-width="0.25">2008</text>
<line x1="379.6" y1="648.2" x2="379.6" y2="652.2" stroke="#4a4a4a" stroke-width="1"/>
<text x="379.6" y="665.6" font-size="10" text-anchor="middle" fill="#1a1a1a" stroke="#1a1a1a" stroke-width="0.25">2009</text>
<line x1="414.6" y1="648.2" x2="414.6" y2="652.2" stroke="#4a4a4a" stroke-width="1"/>
<text x="414.6" y="665.6" font-size="10" text-anchor="middle" fill="#1a1a1a" stroke="#1a1a1a" stroke-width="0.25">2010</text>
<line x1="449.6" y1="648.2" x2="449.6" y2="652.2" stroke="#4a4a4a" stroke-width="1"/>
<text x="449.6" y="665.6" font-size="10" text-anchor="middle" fill="#1a1a1a" stroke="#1a1a1a" stroke-width="0.25">2011</text>
<line x1="484.7" y1="648.2" x2="484.7" y2="652.2" stroke="#4a4a4a" stroke-width="1"/>
<text x="484.7" y="665.6" font-size="10" text-anchor="middle" fill="#1a1a1a" stroke="#1a1a1a" stroke-width="0.25">2012</text>
<line x1="519.7" y1="648.2" x2="519.7" y2="652.2" stroke="#4a4a4a" stroke-width="1"/>
<text x="519.7" y="665.6" font-size="10" text-anchor="middle" fill="#1a1a1a" stroke="#1a1a1a" stroke-width="0.25">2013</text>
<line x1="554.8" y1="648.2" x2="554.8" y2="652.2" stroke="#4a4a4a" stroke-width="1"/>
<text x="554.8" y="665.6" font-size="10" text-anchor="middle" fill="#1a1a1a" stroke="#1a1a1a" stroke-width="0.25">2014</text>
<line x1="589.8" y1="648.2" x2="589.8" y2="652.2" stroke="#4a4a4a" stroke-width="1"/>
<text x="589.8" y="665.6" font-size="10" text-anchor="middle" fill="#1a1a1a" stroke="#1a1a1a" stroke-width="0.25">2015</text>
<line x1="624.8" y1="648.2" x2="624.8" y2="652.2" stroke="#4a4a4a" stroke-width="1"/>
<text x="624.8" y="665.6" font-size="10" text-anchor="middle" fill="#1a1a1a" stroke="#1a1a1a" stroke-width="0.25">2016</text>
<text x="11" y="526.8" font-size="12.3" text-anchor="middle" fill="#1a1a1a" stroke="#1a1a1a" stroke-width="0.25" transform="rotate(-90 11 526.8)" dominant-baseline="central">Surface area where DC takes place (km<tspan font-size="0.7em" dy="-0.7em">2</tspan><tspan dy="0.49em">)</tspan></text>
<text x="658.2" y="524.7" font-size="12" text-anchor="middle" fill="#1a1a1a" stroke="#1a1a1a" stroke-width="0.25" transform="rotate(-90 658.2 524.7)" dominant-baseline="central">Surface Chla (mg/m<tspan font-size="0.7em" dy="-0.7em">3</tspan><tspan dy="0.49em">)</tspan></text>
<rect x="312" y="379.2" width="23" height="7.4" fill="#c0c0c0"/>
<text x="340.5" y="386.3" font-size="10" text-anchor="start" fill="#1a1a1a" stroke="#1a1a1a" stroke-width="0.25">Model DC area</text>
<line x1="423.2" y1="361.7" x2="446.8" y2="361.7" stroke="#00ff00" stroke-width="2.6"/>
<line x1="423.2" y1="373.7" x2="446.8" y2="373.7" stroke="#000" stroke-width="1.5"/>
<line x1="423.2" y1="386" x2="446.8" y2="386" stroke="#ff00ff" stroke-width="1.7"/>
<text x="452" y="364.8" font-size="10" text-anchor="start" fill="#1a1a1a" stroke="#1a1a1a" stroke-width="0.25">MODIS</text>
<text x="452" y="376.9" font-size="10" text-anchor="start" fill="#1a1a1a" stroke="#1a1a1a" stroke-width="0.25">Model</text>
<text x="452" y="389.4" font-size="10" text-anchor="start" fill="#1a1a1a" stroke="#1a1a1a" stroke-width="0.25">SEAWIFS</text>
<rect x="81.5" y="335.7" width="161" height="112.9" fill="#fff" stroke="#c4c4c4" stroke-width="1.4"/>
<line x1="79.5" y1="432.9" x2="81.5" y2="432.9" stroke="#aaa" stroke-width="0.8"/>
<text x="76.7" y="435.3" font-size="6.9" text-anchor="end" fill="#000" stroke="#000" stroke-width="0.25">0.0</text>
<line x1="79.5" y1="416.7" x2="81.5" y2="416.7" stroke="#aaa" stroke-width="0.8"/>
<text x="76.7" y="419.1" font-size="6.9" text-anchor="end" fill="#000" stroke="#000" stroke-width="0.25">0.5</text>
<line x1="79.5" y1="400.5" x2="81.5" y2="400.5" stroke="#aaa" stroke-width="0.8"/>
<text x="76.7" y="402.9" font-size="6.9" text-anchor="end" fill="#000" stroke="#000" stroke-width="0.25">1.0</text>
<line x1="79.5" y1="384.3" x2="81.5" y2="384.3" stroke="#aaa" stroke-width="0.8"/>
<text x="76.7" y="386.7" font-size="6.9" text-anchor="end" fill="#000" stroke="#000" stroke-width="0.25">1.5</text>
<line x1="79.5" y1="368.1" x2="81.5" y2="368.1" stroke="#aaa" stroke-width="0.8"/>
<text x="76.7" y="370.5" font-size="6.9" text-anchor="end" fill="#000" stroke="#000" stroke-width="0.25">2.0</text>
<line x1="79.5" y1="351.9" x2="81.5" y2="351.9" stroke="#aaa" stroke-width="0.8"/>
<text x="76.7" y="354.3" font-size="6.9" text-anchor="end" fill="#000" stroke="#000" stroke-width="0.25">2.5</text>
<line x1="79.5" y1="335.7" x2="81.5" y2="335.7" stroke="#aaa" stroke-width="0.8"/>
<text x="76.7" y="338.1" font-size="6.9" text-anchor="end" fill="#000" stroke="#000" stroke-width="0.25">3.0</text>
<line x1="81.5" y1="448.6" x2="81.5" y2="450.6" stroke="#aaa" stroke-width="0.8"/>
<text x="81.5" y="460" font-size="6.9" text-anchor="middle" fill="#000" stroke="#000" stroke-width="0.25">0.0</text>
<line x1="97.6" y1="448.6" x2="97.6" y2="450.6" stroke="#aaa" stroke-width="0.8"/>
<text x="97.6" y="460" font-size="6.9" text-anchor="middle" fill="#000" stroke="#000" stroke-width="0.25">0.2</text>
<line x1="113.7" y1="448.6" x2="113.7" y2="450.6" stroke="#aaa" stroke-width="0.8"/>
<text x="113.7" y="460" font-size="6.9" text-anchor="middle" fill="#000" stroke="#000" stroke-width="0.25">0.4</text>
<line x1="129.8" y1="448.6" x2="129.8" y2="450.6" stroke="#aaa" stroke-width="0.8"/>
<text x="129.8" y="460" font-size="6.9" text-anchor="middle" fill="#000" stroke="#000" stroke-width="0.25">0.6</text>
<line x1="145.9" y1="448.6" x2="145.9" y2="450.6" stroke="#aaa" stroke-width="0.8"/>
<text x="145.9" y="460" font-size="6.9" text-anchor="middle" fill="#000" stroke="#000" stroke-width="0.25">0.8</text>
<line x1="162" y1="448.6" x2="162" y2="450.6" stroke="#aaa" stroke-width="0.8"/>
<text x="162" y="460" font-size="6.9" text-anchor="middle" fill="#000" stroke="#000" stroke-width="0.25">1.0</text>
<line x1="178.1" y1="448.6" x2="178.1" y2="450.6" stroke="#aaa" stroke-width="0.8"/>
<text x="178.1" y="460" font-size="6.9" text-anchor="middle" fill="#000" stroke="#000" stroke-width="0.25">1.2</text>
<line x1="194.2" y1="448.6" x2="194.2" y2="450.6" stroke="#aaa" stroke-width="0.8"/>
<text x="194.2" y="460" font-size="6.9" text-anchor="middle" fill="#000" stroke="#000" stroke-width="0.25">1.4</text>
<line x1="210.3" y1="448.6" x2="210.3" y2="450.6" stroke="#aaa" stroke-width="0.8"/>
<text x="210.3" y="460" font-size="6.9" text-anchor="middle" fill="#000" stroke="#000" stroke-width="0.25">1.6</text>
<line x1="226.4" y1="448.6" x2="226.4" y2="450.6" stroke="#aaa" stroke-width="0.8"/>
<text x="226.4" y="460" font-size="6.9" text-anchor="middle" fill="#000" stroke="#000" stroke-width="0.25">1.8</text>
<line x1="242.5" y1="448.6" x2="242.5" y2="450.6" stroke="#aaa" stroke-width="0.8"/>
<text x="242.5" y="460" font-size="6.9" text-anchor="middle" fill="#000" stroke="#000" stroke-width="0.25">2.0</text>
<text x="62.5" y="384.3" font-size="7.2" text-anchor="middle" fill="#1a1a1a" stroke="#1a1a1a" stroke-width="0.25" transform="rotate(-90 62.5 384.3)" dominant-baseline="central">Model</text>
<text x="159.3" y="470" font-size="7.2" text-anchor="middle" fill="#000" stroke="#000" stroke-width="0.25">Satellite</text>
<circle cx="163.6" cy="358.7" r="2.1" fill="#00ff00"/>
<circle cx="155.9" cy="368.3" r="2.1" fill="#00ff00"/>
<circle cx="159.1" cy="379.8" r="2.1" fill="#00ff00"/>
<circle cx="146.4" cy="391.9" r="2.1" fill="#00ff00"/>
<circle cx="149.9" cy="395.1" r="2.1" fill="#00ff00"/>
<circle cx="141.3" cy="398.9" r="2.1" fill="#00ff00"/>
<circle cx="141" cy="404" r="2.1" fill="#00ff00"/>
<circle cx="140" cy="410.2" r="2.1" fill="#00ff00"/>
<circle cx="122.1" cy="404" r="2.1" fill="#00ff00"/>
<circle cx="113.8" cy="407.9" r="2.1" fill="#00ff00"/>
<circle cx="111.3" cy="414.2" r="2.1" fill="#00ff00"/>
<circle cx="146.4" cy="423.2" r="2.1" fill="#00ff00"/>
<circle cx="163.6" cy="424.4" r="2.1" fill="#00ff00"/>
<circle cx="159.1" cy="418.1" r="2.1" fill="#00ff00"/>
<circle cx="125.3" cy="413" r="2.1" fill="#00ff00"/>
<circle cx="217.4" cy="343.8" r="2.1" fill="#00ff00"/>
<circle cx="164.1" cy="359.1" r="2.1" fill="#00ff00"/>
<circle cx="178.1" cy="358.3" r="2.1" fill="#00ff00"/>
<circle cx="202.1" cy="367.7" r="2.1" fill="#00ff00"/>
<circle cx="240.2" cy="373.7" r="2.1" fill="#00ff00"/>
<circle cx="179.1" cy="384.2" r="2.1" fill="#00ff00"/>
<circle cx="179.8" cy="389.7" r="2.1" fill="#00ff00"/>
<circle cx="178.5" cy="393.2" r="2.1" fill="#00ff00"/>
<circle cx="165.1" cy="391.9" r="2.1" fill="#00ff00"/>
<circle cx="194.7" cy="391" r="2.1" fill="#00ff00"/>
<circle cx="220.2" cy="384.6" r="2.1" fill="#00ff00"/>
<circle cx="215.1" cy="387.7" r="2.1" fill="#00ff00"/>
<circle cx="242.3" cy="388.1" r="2.1" fill="#00ff00"/>
<circle cx="170.2" cy="398.3" r="2.1" fill="#00ff00"/>
<circle cx="181.1" cy="405.9" r="2.1" fill="#00ff00"/>
<circle cx="191.9" cy="404" r="2.1" fill="#00ff00"/>
<circle cx="212.6" cy="404.7" r="2.1" fill="#00ff00"/>
<circle cx="219.3" cy="405.6" r="2.1" fill="#00ff00"/>
<circle cx="227.6" cy="405.6" r="2.1" fill="#00ff00"/>
<circle cx="194.7" cy="411.7" r="2.1" fill="#00ff00"/>
<circle cx="198.9" cy="416.5" r="2.1" fill="#00ff00"/>
<circle cx="222.3" cy="413.6" r="2.1" fill="#00ff00"/>
<circle cx="165.4" cy="410.4" r="2.1" fill="#00ff00"/>
<circle cx="172.1" cy="416.8" r="2.1" fill="#00ff00"/>
<circle cx="178.9" cy="418.1" r="2.1" fill="#00ff00"/>
<circle cx="183.2" cy="418.7" r="2.1" fill="#00ff00"/>
<circle cx="176.6" cy="420.9" r="2.1" fill="#00ff00"/>
<circle cx="193.8" cy="419.1" r="2.1" fill="#00ff00"/>
<circle cx="164.5" cy="419.1" r="2.1" fill="#00ff00"/>
<circle cx="164.5" cy="424.4" r="2.1" fill="#00ff00"/>
<circle cx="131" cy="420" r="2.1" fill="#00ff00"/>
<circle cx="113.7" cy="408.1" r="2.1" fill="#00ff00"/>
<circle cx="121.5" cy="404" r="2.1" fill="#00ff00"/>
<circle cx="122.9" cy="407.4" r="2.1" fill="#00ff00"/>
<circle cx="111.7" cy="414.5" r="2.1" fill="#00ff00"/>
<circle cx="126.6" cy="414.2" r="2.1" fill="#00ff00"/>
<circle cx="146" cy="391.8" r="2.1" fill="#00ff00"/>
<circle cx="149.4" cy="394.8" r="2.1" fill="#00ff00"/>
<circle cx="159.9" cy="393.3" r="2.1" fill="#00ff00"/>
<circle cx="165.2" cy="391.8" r="2.1" fill="#00ff00"/>
<circle cx="141.1" cy="398.5" r="2.1" fill="#00ff00"/>
<circle cx="140.4" cy="404.2" r="2.1" fill="#00ff00"/>
<circle cx="170" cy="398.2" r="2.1" fill="#00ff00"/>
<circle cx="140.4" cy="409.8" r="2.1" fill="#00ff00"/>
<circle cx="172.3" cy="416.6" r="2.1" fill="#00ff00"/>
<circle cx="164.4" cy="419.2" r="2.1" fill="#00ff00"/>
<circle cx="165.5" cy="410.9" r="2.1" fill="#00ff00"/>
<circle cx="98.5" cy="424.1" r="2.1" fill="#00ff00"/>
<circle cx="103.4" cy="424.5" r="2.1" fill="#00ff00"/>
<circle cx="113.7" cy="415.7" r="2.1" fill="#00ff00"/>
<circle cx="91.3" cy="428.2" r="2.1" fill="#00ff00"/>
<circle cx="99.3" cy="420.8" r="2.1" fill="#00ff00"/>
<circle cx="129.8" cy="418.8" r="2.1" fill="#00ff00"/>
<circle cx="122.8" cy="419.9" r="2.1" fill="#00ff00"/>
<circle cx="114.3" cy="416.7" r="2.1" fill="#00ff00"/>
<circle cx="114.1" cy="426.9" r="2.1" fill="#00ff00"/>
<circle cx="109.5" cy="425.6" r="2.1" fill="#00ff00"/>
<circle cx="115.7" cy="415.1" r="2.1" fill="#00ff00"/>
<circle cx="119.4" cy="422.3" r="2.1" fill="#00ff00"/>
<circle cx="96.5" cy="425.1" r="2.45" fill="#ff00ff" stroke="#000" stroke-width="0.85"/>
<circle cx="101.4" cy="425.5" r="2.45" fill="#ff00ff" stroke="#000" stroke-width="0.85"/>
<circle cx="111.7" cy="416.7" r="2.45" fill="#ff00ff" stroke="#000" stroke-width="0.85"/>
<circle cx="89.3" cy="429.2" r="2.45" fill="#ff00ff" stroke="#000" stroke-width="0.85"/>
<circle cx="97.3" cy="421.8" r="2.45" fill="#ff00ff" stroke="#000" stroke-width="0.85"/>
<circle cx="127.8" cy="419.8" r="2.45" fill="#ff00ff" stroke="#000" stroke-width="0.85"/>
<circle cx="120.8" cy="420.9" r="2.45" fill="#ff00ff" stroke="#000" stroke-width="0.85"/>
<circle cx="112.3" cy="417.7" r="2.45" fill="#ff00ff" stroke="#000" stroke-width="0.85"/>
<circle cx="112.1" cy="427.9" r="2.45" fill="#ff00ff" stroke="#000" stroke-width="0.85"/>
<circle cx="107.5" cy="426.6" r="2.45" fill="#ff00ff" stroke="#000" stroke-width="0.85"/>
<circle cx="113.7" cy="416.1" r="2.45" fill="#ff00ff" stroke="#000" stroke-width="0.85"/>
<circle cx="117.4" cy="423.3" r="2.45" fill="#ff00ff" stroke="#000" stroke-width="0.85"/>
<circle cx="98.8" cy="419.5" r="2.45" fill="#ff00ff" stroke="#000" stroke-width="0.85"/>
<circle cx="122" cy="420.6" r="2.45" fill="#ff00ff" stroke="#000" stroke-width="0.85"/>
<circle cx="115.7" cy="427.9" r="2.45" fill="#ff00ff" stroke="#000" stroke-width="0.85"/>
<circle cx="115.5" cy="428.6" r="2.45" fill="#ff00ff" stroke="#000" stroke-width="0.85"/>
<circle cx="102.4" cy="427.6" r="2.45" fill="#ff00ff" stroke="#000" stroke-width="0.85"/>
<circle cx="104.4" cy="429.1" r="2.45" fill="#ff00ff" stroke="#000" stroke-width="0.85"/>
<circle cx="122.6" cy="414" r="2.45" fill="#ff00ff" stroke="#000" stroke-width="0.85"/>
<circle cx="92.9" cy="424.1" r="2.45" fill="#ff00ff" stroke="#000" stroke-width="0.85"/>
<circle cx="126.5" cy="419.3" r="2.45" fill="#ff00ff" stroke="#000" stroke-width="0.85"/>
<circle cx="111.8" cy="420" r="2.45" fill="#ff00ff" stroke="#000" stroke-width="0.85"/>
<circle cx="106.9" cy="422.2" r="2.45" fill="#ff00ff" stroke="#000" stroke-width="0.85"/>
<circle cx="100.7" cy="425.3" r="2.45" fill="#ff00ff" stroke="#000" stroke-width="0.85"/>
<circle cx="110" cy="428.5" r="2.45" fill="#ff00ff" stroke="#000" stroke-width="0.85"/>
<circle cx="114.1" cy="428.7" r="2.45" fill="#ff00ff" stroke="#000" stroke-width="0.85"/>
<circle cx="121.6" cy="429.6" r="2.45" fill="#ff00ff" stroke="#000" stroke-width="0.85"/>
<circle cx="113.7" cy="417.5" r="2.45" fill="#ff00ff" stroke="#000" stroke-width="0.85"/>
<circle cx="121.8" cy="429.2" r="2.45" fill="#ff00ff" stroke="#000" stroke-width="0.85"/>
<circle cx="123.8" cy="422.1" r="2.45" fill="#ff00ff" stroke="#000" stroke-width="0.85"/>
<circle cx="115.5" cy="417.8" r="2.45" fill="#ff00ff" stroke="#000" stroke-width="0.85"/>
<circle cx="120.5" cy="422.6" r="2.45" fill="#ff00ff" stroke="#000" stroke-width="0.85"/>
<circle cx="98.2" cy="419.9" r="2.45" fill="#ff00ff" stroke="#000" stroke-width="0.85"/>
<circle cx="121.5" cy="429.6" r="2.45" fill="#ff00ff" stroke="#000" stroke-width="0.85"/>
<circle cx="91.4" cy="428.7" r="2.45" fill="#ff00ff" stroke="#000" stroke-width="0.85"/>
<circle cx="103" cy="420.3" r="2.45" fill="#ff00ff" stroke="#000" stroke-width="0.85"/>
<circle cx="98.5" cy="427.3" r="2.45" fill="#ff00ff" stroke="#000" stroke-width="0.85"/>
<circle cx="122.4" cy="413.1" r="2.45" fill="#ff00ff" stroke="#000" stroke-width="0.85"/>
<circle cx="111.3" cy="416.6" r="2.45" fill="#ff00ff" stroke="#000" stroke-width="0.85"/>
<circle cx="115.7" cy="419.5" r="2.45" fill="#ff00ff" stroke="#000" stroke-width="0.85"/>
<circle cx="122.7" cy="429.5" r="2.45" fill="#ff00ff" stroke="#000" stroke-width="0.85"/>
<circle cx="106.8" cy="429.8" r="2.45" fill="#ff00ff" stroke="#000" stroke-width="0.85"/>
<circle cx="99.1" cy="419.9" r="2.45" fill="#ff00ff" stroke="#000" stroke-width="0.85"/>
<circle cx="110.7" cy="416.6" r="2.45" fill="#ff00ff" stroke="#000" stroke-width="0.85"/>
<circle cx="95" cy="424.3" r="2.45" fill="#ff00ff" stroke="#000" stroke-width="0.85"/>
<circle cx="111.1" cy="418.2" r="2.45" fill="#ff00ff" stroke="#000" stroke-width="0.85"/>
<circle cx="90" cy="429.2" r="2.45" fill="#ff00ff" stroke="#000" stroke-width="0.85"/>
<circle cx="99.3" cy="429.4" r="2.45" fill="#ff00ff" stroke="#000" stroke-width="0.85"/>
<circle cx="123.4" cy="418.7" r="2.45" fill="#ff00ff" stroke="#000" stroke-width="0.85"/>
<circle cx="105" cy="424.2" r="2.45" fill="#ff00ff" stroke="#000" stroke-width="0.85"/>
<circle cx="112.5" cy="424" r="2.45" fill="#ff00ff" stroke="#000" stroke-width="0.85"/>
<circle cx="109" cy="424.8" r="2.45" fill="#ff00ff" stroke="#000" stroke-width="0.85"/>
<circle cx="125.3" cy="420.7" r="2.45" fill="#ff00ff" stroke="#000" stroke-width="0.85"/>
<circle cx="103.8" cy="426.6" r="2.45" fill="#ff00ff" stroke="#000" stroke-width="0.85"/>
<circle cx="96.5" cy="422.6" r="2.45" fill="#ff00ff" stroke="#000" stroke-width="0.85"/>
<circle cx="127" cy="420.8" r="2.45" fill="#ff00ff" stroke="#000" stroke-width="0.85"/>
<circle cx="108.5" cy="417.1" r="2.45" fill="#ff00ff" stroke="#000" stroke-width="0.85"/>
<circle cx="103.2" cy="425.1" r="2.45" fill="#ff00ff" stroke="#000" stroke-width="0.85"/>
<circle cx="89.4" cy="428.4" r="2.45" fill="#ff00ff" stroke="#000" stroke-width="0.85"/>
<circle cx="112" cy="416.5" r="2.45" fill="#ff00ff" stroke="#000" stroke-width="0.85"/>
<circle cx="111.8" cy="422.3" r="2.45" fill="#ff00ff" stroke="#000" stroke-width="0.85"/>
<circle cx="114" cy="420.2" r="2.45" fill="#ff00ff" stroke="#000" stroke-width="0.85"/>
<circle cx="115.2" cy="425.8" r="2.45" fill="#ff00ff" stroke="#000" stroke-width="0.85"/>
<circle cx="89.5" cy="426.2" r="2.45" fill="#ff00ff" stroke="#000" stroke-width="0.85"/>
<circle cx="113.9" cy="429.3" r="2.45" fill="#ff00ff" stroke="#000" stroke-width="0.85"/>
<circle cx="97" cy="424.1" r="2.45" fill="#ff00ff" stroke="#000" stroke-width="0.85"/>
<circle cx="110.4" cy="420.6" r="2.45" fill="#ff00ff" stroke="#000" stroke-width="0.85"/>
<circle cx="101.2" cy="422.3" r="2.45" fill="#ff00ff" stroke="#000" stroke-width="0.85"/>
<circle cx="101.4" cy="425.4" r="2.45" fill="#ff00ff" stroke="#000" stroke-width="0.85"/>
<circle cx="98.8" cy="423.2" r="2.45" fill="#ff00ff" stroke="#000" stroke-width="0.85"/>
<circle cx="118" cy="414.2" r="2.45" fill="#ff00ff" stroke="#000" stroke-width="0.85"/>
<circle cx="109.4" cy="426.3" r="2.45" fill="#ff00ff" stroke="#000" stroke-width="0.85"/>
<circle cx="99.1" cy="421.5" r="2.45" fill="#ff00ff" stroke="#000" stroke-width="0.85"/>
<circle cx="119.3" cy="417.2" r="2.45" fill="#ff00ff" stroke="#000" stroke-width="0.85"/>
<circle cx="94.7" cy="424.7" r="2.45" fill="#ff00ff" stroke="#000" stroke-width="0.85"/>
<circle cx="114.8" cy="416.3" r="2.45" fill="#ff00ff" stroke="#000" stroke-width="0.85"/>
<circle cx="99.6" cy="422.6" r="2.45" fill="#ff00ff" stroke="#000" stroke-width="0.85"/>
<circle cx="120.6" cy="420.3" r="2.45" fill="#ff00ff" stroke="#000" stroke-width="0.85"/>
<circle cx="121.6" cy="415.5" r="2.45" fill="#ff00ff" stroke="#000" stroke-width="0.85"/>
<circle cx="100.2" cy="426" r="2.45" fill="#ff00ff" stroke="#000" stroke-width="0.85"/>
<circle cx="122.9" cy="420.1" r="2.45" fill="#ff00ff" stroke="#000" stroke-width="0.85"/>
<circle cx="96" cy="420.7" r="2.45" fill="#ff00ff" stroke="#000" stroke-width="0.85"/>
<circle cx="107.8" cy="419.6" r="2.45" fill="#ff00ff" stroke="#000" stroke-width="0.85"/>
<circle cx="119.5" cy="427.1" r="2.45" fill="#ff00ff" stroke="#000" stroke-width="0.85"/>
<circle cx="94.6" cy="423.4" r="2.45" fill="#ff00ff" stroke="#000" stroke-width="0.85"/>
<circle cx="119.5" cy="423.9" r="2.45" fill="#ff00ff" stroke="#000" stroke-width="0.85"/>
<circle cx="119.4" cy="419" r="2.45" fill="#ff00ff" stroke="#000" stroke-width="0.85"/>
<circle cx="92.7" cy="424.8" r="2.45" fill="#ff00ff" stroke="#000" stroke-width="0.85"/>
<circle cx="118.9" cy="417.9" r="2.45" fill="#ff00ff" stroke="#000" stroke-width="0.85"/>
<circle cx="100.5" cy="423.5" r="2.45" fill="#ff00ff" stroke="#000" stroke-width="0.85"/>
<circle cx="103.4" cy="423.2" r="2.45" fill="#ff00ff" stroke="#000" stroke-width="0.85"/>
<circle cx="124.5" cy="414.5" r="2.45" fill="#ff00ff" stroke="#000" stroke-width="0.85"/>
<circle cx="89.1" cy="429.6" r="2.45" fill="#ff00ff" stroke="#000" stroke-width="0.85"/>
<circle cx="122.7" cy="429.6" r="2.45" fill="#ff00ff" stroke="#000" stroke-width="0.85"/>
<circle cx="103.9" cy="429.2" r="2.45" fill="#ff00ff" stroke="#000" stroke-width="0.85"/>
<circle cx="124.8" cy="415.6" r="2.45" fill="#ff00ff" stroke="#000" stroke-width="0.85"/>
<circle cx="116.8" cy="427.2" r="2.45" fill="#ff00ff" stroke="#000" stroke-width="0.85"/>
<circle cx="113.3" cy="422.8" r="2.45" fill="#ff00ff" stroke="#000" stroke-width="0.85"/>
<circle cx="98.4" cy="422.8" r="2.45" fill="#ff00ff" stroke="#000" stroke-width="0.85"/>
<circle cx="96.1" cy="420.2" r="2.45" fill="#ff00ff" stroke="#000" stroke-width="0.85"/>
<circle cx="110.2" cy="420.2" r="2.45" fill="#ff00ff" stroke="#000" stroke-width="0.85"/>
<circle cx="119.6" cy="414" r="2.45" fill="#ff00ff" stroke="#000" stroke-width="0.85"/>
<circle cx="123.7" cy="424.3" r="2.45" fill="#ff00ff" stroke="#000" stroke-width="0.85"/>
<circle cx="124.6" cy="427.9" r="2.45" fill="#ff00ff" stroke="#000" stroke-width="0.85"/>
<circle cx="123.5" cy="422.3" r="2.45" fill="#ff00ff" stroke="#000" stroke-width="0.85"/>
<circle cx="89.3" cy="428.9" r="2.45" fill="#ff00ff" stroke="#000" stroke-width="0.85"/>
<circle cx="94.1" cy="423.9" r="2.45" fill="#ff00ff" stroke="#000" stroke-width="0.85"/>
<circle cx="113.3" cy="422.9" r="2.45" fill="#ff00ff" stroke="#000" stroke-width="0.85"/>
<circle cx="103.1" cy="429.1" r="2.45" fill="#ff00ff" stroke="#000" stroke-width="0.85"/>
<circle cx="111.2" cy="420.7" r="2.45" fill="#ff00ff" stroke="#000" stroke-width="0.85"/>
<circle cx="97" cy="428.4" r="2.45" fill="#ff00ff" stroke="#000" stroke-width="0.85"/>
<circle cx="105.7" cy="427.2" r="2.45" fill="#ff00ff" stroke="#000" stroke-width="0.85"/>
<circle cx="100.7" cy="421.1" r="2.45" fill="#ff00ff" stroke="#000" stroke-width="0.85"/>
<circle cx="108" cy="427.5" r="2.45" fill="#ff00ff" stroke="#000" stroke-width="0.85"/>
<circle cx="94.1" cy="428" r="2.45" fill="#ff00ff" stroke="#000" stroke-width="0.85"/>
<circle cx="124.5" cy="426.3" r="2.45" fill="#ff00ff" stroke="#000" stroke-width="0.85"/>
<circle cx="120.2" cy="413.2" r="2.45" fill="#ff00ff" stroke="#000" stroke-width="0.85"/>
<circle cx="111.9" cy="427.9" r="2.45" fill="#ff00ff" stroke="#000" stroke-width="0.85"/>
<circle cx="90.2" cy="426.5" r="2.45" fill="#ff00ff" stroke="#000" stroke-width="0.85"/>
<circle cx="97.6" cy="424.8" r="2.45" fill="#ff00ff" stroke="#000" stroke-width="0.85"/>
<circle cx="103.5" cy="423.9" r="2.45" fill="#ff00ff" stroke="#000" stroke-width="0.85"/>
<circle cx="118.2" cy="413.7" r="2.45" fill="#ff00ff" stroke="#000" stroke-width="0.85"/>
<circle cx="90.4" cy="425.7" r="2.45" fill="#ff00ff" stroke="#000" stroke-width="0.85"/>
<circle cx="92.6" cy="423.4" r="2.45" fill="#ff00ff" stroke="#000" stroke-width="0.85"/>
<circle cx="126.9" cy="427.1" r="2.45" fill="#ff00ff" stroke="#000" stroke-width="0.85"/>
<circle cx="91.3" cy="427" r="2.45" fill="#ff00ff" stroke="#000" stroke-width="0.85"/>
<circle cx="99.4" cy="422.5" r="2.45" fill="#ff00ff" stroke="#000" stroke-width="0.85"/>
<circle cx="100.7" cy="426" r="2.45" fill="#ff00ff" stroke="#000" stroke-width="0.85"/>
<circle cx="110.1" cy="421.2" r="2.45" fill="#ff00ff" stroke="#000" stroke-width="0.85"/>
<circle cx="94.8" cy="423.7" r="2.45" fill="#ff00ff" stroke="#000" stroke-width="0.85"/>
<circle cx="92.5" cy="426.8" r="2.45" fill="#ff00ff" stroke="#000" stroke-width="0.85"/>
<circle cx="115.6" cy="420.3" r="2.45" fill="#ff00ff" stroke="#000" stroke-width="0.85"/>
<circle cx="91.1" cy="425.3" r="2.45" fill="#ff00ff" stroke="#000" stroke-width="0.85"/>
<circle cx="101.6" cy="425.5" r="2.45" fill="#ff00ff" stroke="#000" stroke-width="0.85"/>
<circle cx="118.4" cy="419.8" r="2.45" fill="#ff00ff" stroke="#000" stroke-width="0.85"/>
<circle cx="119.2" cy="423.6" r="2.45" fill="#ff00ff" stroke="#000" stroke-width="0.85"/>
<circle cx="103.8" cy="422.7" r="2.45" fill="#ff00ff" stroke="#000" stroke-width="0.85"/>
<circle cx="106.4" cy="426.2" r="2.45" fill="#ff00ff" stroke="#000" stroke-width="0.85"/>
<circle cx="103.4" cy="426.4" r="2.45" fill="#ff00ff" stroke="#000" stroke-width="0.85"/>
<circle cx="105" cy="421" r="2.45" fill="#ff00ff" stroke="#000" stroke-width="0.85"/>
<circle cx="108" cy="425.9" r="2.45" fill="#ff00ff" stroke="#000" stroke-width="0.85"/>
<circle cx="90.9" cy="426.8" r="2.45" fill="#ff00ff" stroke="#000" stroke-width="0.85"/>
<circle cx="103.6" cy="428.4" r="2.45" fill="#ff00ff" stroke="#000" stroke-width="0.85"/>
<circle cx="125.2" cy="418.3" r="2.45" fill="#ff00ff" stroke="#000" stroke-width="0.85"/>
<circle cx="123.5" cy="426.1" r="2.45" fill="#ff00ff" stroke="#000" stroke-width="0.85"/>
<circle cx="97.4" cy="424.2" r="2.45" fill="#ff00ff" stroke="#000" stroke-width="0.85"/>
<circle cx="92.5" cy="428.5" r="2.45" fill="#ff00ff" stroke="#000" stroke-width="0.85"/>
<circle cx="113.3" cy="428.2" r="2.45" fill="#ff00ff" stroke="#000" stroke-width="0.85"/>
<circle cx="118.8" cy="424.4" r="2.45" fill="#ff00ff" stroke="#000" stroke-width="0.85"/>
<circle cx="116.3" cy="423" r="2.45" fill="#ff00ff" stroke="#000" stroke-width="0.85"/>
<circle cx="164.9" cy="343.4" r="2.45" fill="#ff00ff" stroke="#000" stroke-width="0.85"/>
<circle cx="131.1" cy="359.1" r="2.45" fill="#ff00ff" stroke="#000" stroke-width="0.85"/>
<circle cx="152.1" cy="358.1" r="2.45" fill="#ff00ff" stroke="#000" stroke-width="0.85"/>
<circle cx="157.2" cy="359.6" r="2.45" fill="#ff00ff" stroke="#000" stroke-width="0.85"/>
<circle cx="137.2" cy="367.7" r="2.45" fill="#ff00ff" stroke="#000" stroke-width="0.85"/>
<circle cx="147.4" cy="365.1" r="2.45" fill="#ff00ff" stroke="#000" stroke-width="0.85"/>
<circle cx="157.9" cy="371.1" r="2.45" fill="#ff00ff" stroke="#000" stroke-width="0.85"/>
<circle cx="151.2" cy="374.9" r="2.45" fill="#ff00ff" stroke="#000" stroke-width="0.85"/>
<circle cx="163" cy="374" r="2.45" fill="#ff00ff" stroke="#000" stroke-width="0.85"/>
<circle cx="125.9" cy="377.9" r="2.45" fill="#ff00ff" stroke="#000" stroke-width="0.85"/>
<circle cx="135.1" cy="380.8" r="2.45" fill="#ff00ff" stroke="#000" stroke-width="0.85"/>
<circle cx="116.8" cy="383" r="2.45" fill="#ff00ff" stroke="#000" stroke-width="0.85"/>
<circle cx="120.8" cy="383.9" r="2.45" fill="#ff00ff" stroke="#000" stroke-width="0.85"/>
<circle cx="157.9" cy="382.6" r="2.45" fill="#ff00ff" stroke="#000" stroke-width="0.85"/>
<circle cx="110" cy="389.7" r="2.45" fill="#ff00ff" stroke="#000" stroke-width="0.85"/>
<circle cx="118.9" cy="392.8" r="2.45" fill="#ff00ff" stroke="#000" stroke-width="0.85"/>
<circle cx="122.1" cy="394.1" r="2.45" fill="#ff00ff" stroke="#000" stroke-width="0.85"/>
<circle cx="125.7" cy="398.3" r="2.45" fill="#ff00ff" stroke="#000" stroke-width="0.85"/>
<circle cx="138.7" cy="391.9" r="2.45" fill="#ff00ff" stroke="#000" stroke-width="0.85"/>
<circle cx="143.8" cy="388.1" r="2.45" fill="#ff00ff" stroke="#000" stroke-width="0.85"/>
<circle cx="147.6" cy="386.2" r="2.45" fill="#ff00ff" stroke="#000" stroke-width="0.85"/>
<circle cx="151.5" cy="388.1" r="2.45" fill="#ff00ff" stroke="#000" stroke-width="0.85"/>
<circle cx="155.9" cy="391.9" r="2.45" fill="#ff00ff" stroke="#000" stroke-width="0.85"/>
<circle cx="136.8" cy="400.2" r="2.45" fill="#ff00ff" stroke="#000" stroke-width="0.85"/>
<circle cx="150.2" cy="397.6" r="2.45" fill="#ff00ff" stroke="#000" stroke-width="0.85"/>
<circle cx="155.3" cy="400.2" r="2.45" fill="#ff00ff" stroke="#000" stroke-width="0.85"/>
<circle cx="160.4" cy="397.6" r="2.45" fill="#ff00ff" stroke="#000" stroke-width="0.85"/>
<circle cx="163" cy="402.7" r="2.45" fill="#ff00ff" stroke="#000" stroke-width="0.85"/>
<circle cx="94.7" cy="403.8" r="2.45" fill="#ff00ff" stroke="#000" stroke-width="0.85"/>
<circle cx="99.8" cy="405.3" r="2.45" fill="#ff00ff" stroke="#000" stroke-width="0.85"/>
<circle cx="95.1" cy="410.2" r="2.45" fill="#ff00ff" stroke="#000" stroke-width="0.85"/>
<circle cx="97.9" cy="411.7" r="2.45" fill="#ff00ff" stroke="#000" stroke-width="0.85"/>
<circle cx="111.9" cy="403.4" r="2.45" fill="#ff00ff" stroke="#000" stroke-width="0.85"/>
<circle cx="117.3" cy="401.9" r="2.45" fill="#ff00ff" stroke="#000" stroke-width="0.85"/>
<circle cx="126.6" cy="410.4" r="2.45" fill="#ff00ff" stroke="#000" stroke-width="0.85"/>
<circle cx="153.4" cy="405.3" r="2.45" fill="#ff00ff" stroke="#000" stroke-width="0.85"/>
<circle cx="158.5" cy="406.6" r="2.45" fill="#ff00ff" stroke="#000" stroke-width="0.85"/>
<circle cx="136.2" cy="421.9" r="2.45" fill="#ff00ff" stroke="#000" stroke-width="0.85"/>
<circle cx="141" cy="420" r="2.45" fill="#ff00ff" stroke="#000" stroke-width="0.85"/>
<circle cx="134.2" cy="428.9" r="2.45" fill="#ff00ff" stroke="#000" stroke-width="0.85"/>
<circle cx="138.7" cy="427" r="2.45" fill="#ff00ff" stroke="#000" stroke-width="0.85"/>
<circle cx="150.8" cy="417.4" r="2.45" fill="#ff00ff" stroke="#000" stroke-width="0.85"/>
<circle cx="156.6" cy="423.2" r="2.45" fill="#ff00ff" stroke="#000" stroke-width="0.85"/>
<circle cx="159.8" cy="420" r="2.45" fill="#ff00ff" stroke="#000" stroke-width="0.85"/>
<circle cx="165.7" cy="343.8" r="2.45" fill="#ff00ff" stroke="#000" stroke-width="0.85"/>
<circle cx="201.1" cy="360.4" r="2.45" fill="#ff00ff" stroke="#000" stroke-width="0.85"/>
<circle cx="227.9" cy="374" r="2.45" fill="#ff00ff" stroke="#000" stroke-width="0.85"/>
<circle cx="163.6" cy="374" r="2.45" fill="#ff00ff" stroke="#000" stroke-width="0.85"/>
<circle cx="175.1" cy="381.3" r="2.45" fill="#ff00ff" stroke="#000" stroke-width="0.85"/>
<circle cx="197" cy="384.2" r="2.45" fill="#ff00ff" stroke="#000" stroke-width="0.85"/>
<circle cx="207" cy="386.2" r="2.45" fill="#ff00ff" stroke="#000" stroke-width="0.85"/>
<circle cx="161.3" cy="397" r="2.45" fill="#ff00ff" stroke="#000" stroke-width="0.85"/>
<circle cx="162.6" cy="403.4" r="2.45" fill="#ff00ff" stroke="#000" stroke-width="0.85"/>
<circle cx="174" cy="407.9" r="2.45" fill="#ff00ff" stroke="#000" stroke-width="0.85"/>
<circle cx="202.8" cy="403.8" r="2.45" fill="#ff00ff" stroke="#000" stroke-width="0.85"/>
<circle cx="209.8" cy="399.6" r="2.45" fill="#ff00ff" stroke="#000" stroke-width="0.85"/>
<circle cx="216.2" cy="407.2" r="2.45" fill="#ff00ff" stroke="#000" stroke-width="0.85"/>
<circle cx="214.6" cy="412.3" r="2.45" fill="#ff00ff" stroke="#000" stroke-width="0.85"/>
<circle cx="199.8" cy="411.7" r="2.45" fill="#ff00ff" stroke="#000" stroke-width="0.85"/>
<circle cx="203.4" cy="420.9" r="2.45" fill="#ff00ff" stroke="#000" stroke-width="0.85"/>
<circle cx="188.7" cy="424.4" r="2.45" fill="#ff00ff" stroke="#000" stroke-width="0.85"/>
<circle cx="169.6" cy="427.6" r="2.45" fill="#ff00ff" stroke="#000" stroke-width="0.85"/>
<circle cx="229.6" cy="426.4" r="2.45" fill="#ff00ff" stroke="#000" stroke-width="0.85"/>
<circle cx="160" cy="419.3" r="2.45" fill="#ff00ff" stroke="#000" stroke-width="0.85"/>
<circle cx="111.7" cy="403" r="2.45" fill="#ff00ff" stroke="#000" stroke-width="0.85"/>
<circle cx="117.4" cy="402" r="2.45" fill="#ff00ff" stroke="#000" stroke-width="0.85"/>
<circle cx="115.4" cy="405" r="2.45" fill="#ff00ff" stroke="#000" stroke-width="0.85"/>
<circle cx="126.2" cy="410.5" r="2.45" fill="#ff00ff" stroke="#000" stroke-width="0.85"/>
<circle cx="144.1" cy="388.4" r="2.45" fill="#ff00ff" stroke="#000" stroke-width="0.85"/>
<circle cx="147.9" cy="386.5" r="2.45" fill="#ff00ff" stroke="#000" stroke-width="0.85"/>
<circle cx="151.3" cy="388" r="2.45" fill="#ff00ff" stroke="#000" stroke-width="0.85"/>
<circle cx="155.8" cy="391.8" r="2.45" fill="#ff00ff" stroke="#000" stroke-width="0.85"/>
<circle cx="160.9" cy="397.4" r="2.45" fill="#ff00ff" stroke="#000" stroke-width="0.85"/>
<circle cx="150.5" cy="397.8" r="2.45" fill="#ff00ff" stroke="#000" stroke-width="0.85"/>
<circle cx="155.4" cy="400.4" r="2.45" fill="#ff00ff" stroke="#000" stroke-width="0.85"/>
<circle cx="152" cy="403" r="2.45" fill="#ff00ff" stroke="#000" stroke-width="0.85"/>
<circle cx="162.5" cy="402.7" r="2.45" fill="#ff00ff" stroke="#000" stroke-width="0.85"/>
<circle cx="158" cy="404.9" r="2.45" fill="#ff00ff" stroke="#000" stroke-width="0.85"/>
<circle cx="152.8" cy="406.1" r="2.45" fill="#ff00ff" stroke="#000" stroke-width="0.85"/>
<circle cx="126.5" cy="410.6" r="2.45" fill="#ff00ff" stroke="#000" stroke-width="0.85"/>
<circle cx="144.9" cy="410.9" r="2.45" fill="#ff00ff" stroke="#000" stroke-width="0.85"/>
<circle cx="133.6" cy="413.6" r="2.45" fill="#ff00ff" stroke="#000" stroke-width="0.85"/>
<circle cx="150.5" cy="416.6" r="2.45" fill="#ff00ff" stroke="#000" stroke-width="0.85"/>
<circle cx="153.9" cy="414.7" r="2.45" fill="#ff00ff" stroke="#000" stroke-width="0.85"/>
<circle cx="140.8" cy="419.6" r="2.45" fill="#ff00ff" stroke="#000" stroke-width="0.85"/>
<circle cx="136.6" cy="421.4" r="2.45" fill="#ff00ff" stroke="#000" stroke-width="0.85"/>
<circle cx="147.5" cy="419.2" r="2.45" fill="#ff00ff" stroke="#000" stroke-width="0.85"/>
<circle cx="158.4" cy="419.6" r="2.45" fill="#ff00ff" stroke="#000" stroke-width="0.85"/>
<circle cx="156.5" cy="422.6" r="2.45" fill="#ff00ff" stroke="#000" stroke-width="0.85"/>
<circle cx="173" cy="408.7" r="2.45" fill="#ff00ff" stroke="#000" stroke-width="0.85"/>
<circle cx="174.5" cy="380.9" r="2.45" fill="#ff00ff" stroke="#000" stroke-width="0.85"/>
<circle cx="126.1" cy="398.2" r="2.45" fill="#ff00ff" stroke="#000" stroke-width="0.85"/>
<circle cx="136.3" cy="400.4" r="2.45" fill="#ff00ff" stroke="#000" stroke-width="0.85"/>
<line x1="89.8" y1="427.7" x2="242.5" y2="388" stroke="#00ff00" stroke-width="2.2"/>
<line x1="89.8" y1="427.7" x2="242.5" y2="380.6" stroke="#ff00ff" stroke-width="2.2"/>
<text x="195.1" y="378.8" font-size="10" text-anchor="middle" fill="#ff00ff" stroke="#ff00ff" stroke-width="0.25">(r<tspan font-size="0.7em" dy="-0.7em">2</tspan><tspan dy="0.49em">=0.42)</tspan></text>
<text x="208.5" y="436.3" font-size="10" text-anchor="middle" fill="#00ff00" stroke="#00ff00" stroke-width="0.25">(r<tspan font-size="0.7em" dy="-0.7em">2</tspan><tspan dy="0.49em">=0.66)</tspan></text>
<text x="34.8" y="704.8" font-size="16" text-anchor="start" fill="#1a1a1a" stroke="#1a1a1a" stroke-width="0.25" font-weight="bold">c)</text>
<path d="M154.1 701.7 H510.9 V951.6 H154.1 Z" fill="none" stroke="#4a4a4a" stroke-width="1.1"/>
<line x1="150.1" y1="951.6" x2="154.1" y2="951.6" stroke="#4a4a4a" stroke-width="1"/>
<text x="145.2" y="955.2" font-size="10" text-anchor="end" fill="#1a1a1a" stroke="#1a1a1a" stroke-width="0.25">0.5</text>
<line x1="150.1" y1="915.9" x2="154.1" y2="915.9" stroke="#4a4a4a" stroke-width="1"/>
<text x="145.2" y="919.5" font-size="10" text-anchor="end" fill="#1a1a1a" stroke="#1a1a1a" stroke-width="0.25">1.0</text>
<line x1="150.1" y1="880.2" x2="154.1" y2="880.2" stroke="#4a4a4a" stroke-width="1"/>
<text x="145.2" y="883.8" font-size="10" text-anchor="end" fill="#1a1a1a" stroke="#1a1a1a" stroke-width="0.25">1.5</text>
<line x1="150.1" y1="844.5" x2="154.1" y2="844.5" stroke="#4a4a4a" stroke-width="1"/>
<text x="145.2" y="848.1" font-size="10" text-anchor="end" fill="#1a1a1a" stroke="#1a1a1a" stroke-width="0.25">2.0</text>
<line x1="150.1" y1="808.8" x2="154.1" y2="808.8" stroke="#4a4a4a" stroke-width="1"/>
<text x="145.2" y="812.4" font-size="10" text-anchor="end" fill="#1a1a1a" stroke="#1a1a1a" stroke-width="0.25">2.5</text>
<line x1="150.1" y1="773.1" x2="154.1" y2="773.1" stroke="#4a4a4a" stroke-width="1"/>
<text x="145.2" y="776.7" font-size="10" text-anchor="end" fill="#1a1a1a" stroke="#1a1a1a" stroke-width="0.25">3.0</text>
<line x1="150.1" y1="737.4" x2="154.1" y2="737.4" stroke="#4a4a4a" stroke-width="1"/>
<text x="145.2" y="741" font-size="10" text-anchor="end" fill="#1a1a1a" stroke="#1a1a1a" stroke-width="0.25">3.5</text>
<line x1="150.1" y1="701.7" x2="154.1" y2="701.7" stroke="#4a4a4a" stroke-width="1"/>
<text x="145.2" y="705.3" font-size="10" text-anchor="end" fill="#1a1a1a" stroke="#1a1a1a" stroke-width="0.25">4.0</text>
<line x1="158.7" y1="951.6" x2="158.7" y2="955.6" stroke="#4a4a4a" stroke-width="1"/>
<text x="158.7" y="969.2" font-size="9.6" text-anchor="middle" fill="#1a1a1a" stroke="#1a1a1a" stroke-width="0.25">0</text>
<line x1="214.6" y1="951.6" x2="214.6" y2="955.6" stroke="#4a4a4a" stroke-width="1"/>
<text x="214.6" y="969.2" font-size="9.6" text-anchor="middle" fill="#1a1a1a" stroke="#1a1a1a" stroke-width="0.25">1e+6</text>
<line x1="270.5" y1="951.6" x2="270.5" y2="955.6" stroke="#4a4a4a" stroke-width="1"/>
<text x="270.5" y="969.2" font-size="9.6" text-anchor="middle" fill="#1a1a1a" stroke="#1a1a1a" stroke-width="0.25">2e+6</text>
<line x1="326.4" y1="951.6" x2="326.4" y2="955.6" stroke="#4a4a4a" stroke-width="1"/>
<text x="326.4" y="969.2" font-size="9.6" text-anchor="middle" fill="#1a1a1a" stroke="#1a1a1a" stroke-width="0.25">3e+6</text>
<line x1="382.3" y1="951.6" x2="382.3" y2="955.6" stroke="#4a4a4a" stroke-width="1"/>
<text x="382.3" y="969.2" font-size="9.6" text-anchor="middle" fill="#1a1a1a" stroke="#1a1a1a" stroke-width="0.25">4e+6</text>
<line x1="438.2" y1="951.6" x2="438.2" y2="955.6" stroke="#4a4a4a" stroke-width="1"/>
<text x="438.2" y="969.2" font-size="9.6" text-anchor="middle" fill="#1a1a1a" stroke="#1a1a1a" stroke-width="0.25">5e+6</text>
<line x1="494.1" y1="951.6" x2="494.1" y2="955.6" stroke="#4a4a4a" stroke-width="1"/>
<text x="494.1" y="969.2" font-size="9.6" text-anchor="middle" fill="#1a1a1a" stroke="#1a1a1a" stroke-width="0.25">6e+6</text>
<text x="332" y="993.2" font-size="12" text-anchor="middle" fill="#1a1a1a" stroke="#1a1a1a" stroke-width="0.25">Annual accumulated extension of DC (km<tspan font-size="0.7em" dy="-0.7em">2</tspan><tspan dy="0.49em">)</tspan></text>
<text x="117.6" y="827.6" font-size="12" text-anchor="middle" fill="#1a1a1a" stroke="#1a1a1a" stroke-width="0.25" transform="rotate(-90 117.6 827.6)" dominant-baseline="central">Maximum intensity of the chla bloom (mg/m<tspan font-size="0.7em" dy="-0.7em">3</tspan><tspan dy="0.49em">)</tspan></text>
<line x1="158.9" y1="898.4" x2="489.3" y2="770.9" stroke="#33ee33" stroke-width="1.2"/>
<line x1="158.9" y1="896.8" x2="489.3" y2="803.1" stroke="#222" stroke-width="1.0"/>
<line x1="158.9" y1="927.3" x2="489.3" y2="853.7" stroke="#ff33ff" stroke-width="1.2"/>
<circle cx="285.1" cy="814.3" r="3.1" fill="#00ff00" stroke="#333" stroke-width="0.9"/>
<circle cx="244" cy="844.3" r="3.1" fill="#00ff00" stroke="#333" stroke-width="0.9"/>
<circle cx="277.8" cy="843.8" r="3.1" fill="#00ff00" stroke="#333" stroke-width="0.9"/>
<circle cx="283.2" cy="899.7" r="3.1" fill="#00ff00" stroke="#333" stroke-width="0.9"/>
<circle cx="331.7" cy="752.1" r="3.1" fill="#00ff00" stroke="#333" stroke-width="0.9"/>
<circle cx="489.3" cy="741" r="3.1" fill="#00ff00" stroke="#333" stroke-width="0.9"/>
<circle cx="441.5" cy="782.6" r="3.1" fill="#00ff00" stroke="#333" stroke-width="0.9"/>
<circle cx="445.9" cy="790.8" r="3.1" fill="#00ff00" stroke="#333" stroke-width="0.9"/>
<circle cx="332.3" cy="830.6" r="3.1" fill="#00ff00" stroke="#333" stroke-width="0.9"/>
<circle cx="378.6" cy="833.5" r="3.1" fill="#00ff00" stroke="#333" stroke-width="0.9"/>
<circle cx="349.3" cy="846.4" r="3.1" fill="#00ff00" stroke="#333" stroke-width="0.9"/>
<circle cx="421.9" cy="864.9" r="3.1" fill="#00ff00" stroke="#333" stroke-width="0.9"/>
<circle cx="158.9" cy="920" r="3.1" fill="#ff00ff" stroke="#333" stroke-width="0.9"/>
<circle cx="191.9" cy="923.8" r="3.1" fill="#ff00ff" stroke="#333" stroke-width="0.9"/>
<circle cx="277.8" cy="875.9" r="3.1" fill="#ff00ff" stroke="#333" stroke-width="0.9"/>
<circle cx="378.6" cy="840" r="3.1" fill="#ff00ff" stroke="#333" stroke-width="0.9"/>
<circle cx="489.3" cy="824.5" r="3.1" fill="#ff00ff" stroke="#333" stroke-width="0.9"/>
<circle cx="441.5" cy="855.8" r="3.1" fill="#ff00ff" stroke="#333" stroke-width="0.9"/>
<circle cx="445.9" cy="879.5" r="3.1" fill="#ff00ff" stroke="#333" stroke-width="0.9"/>
<circle cx="340.4" cy="891.8" r="3.1" fill="#ff00ff" stroke="#333" stroke-width="0.9"/>
<circle cx="356" cy="905.1" r="3.1" fill="#ff00ff" stroke="#333" stroke-width="0.9"/>
<circle cx="332.2" cy="914.5" r="3.1" fill="#ff00ff" stroke="#333" stroke-width="0.9"/>
<polygon points="158.9,892.6 159.9,895.4 162.9,895.5 160.6,897.3 161.4,900.2 158.9,898.6 156.4,900.2 157.2,897.3 154.9,895.5 157.9,895.4" fill="#000"/>
<polygon points="191.9,866.6 192.9,869.4 195.9,869.5 193.6,871.3 194.4,874.2 191.9,872.6 189.4,874.2 190.2,871.3 187.9,869.5 190.9,869.4" fill="#000"/>
<polygon points="244,876.3 245,879.1 248,879.2 245.7,881 246.5,883.9 244,882.3 241.5,883.9 242.3,881 240,879.2 243,879.1" fill="#000"/>
<polygon points="277.6,848 278.6,850.8 281.6,850.9 279.3,852.7 280.1,855.6 277.6,854 275.1,855.6 275.9,852.7 273.6,850.9 276.6,850.8" fill="#000"/>
<polygon points="285.1,853.4 286.1,856.2 289.1,856.3 286.8,858.1 287.6,861 285.1,859.4 282.6,861 283.4,858.1 281.1,856.3 284.1,856.2" fill="#000"/>
<polygon points="283,888 284,890.8 287,890.9 284.7,892.7 285.5,895.6 283,894 280.5,895.6 281.3,892.7 279,890.9 282,890.8" fill="#000"/>
<polygon points="339.9,821.1 340.9,823.9 343.9,824 341.6,825.8 342.4,828.7 339.9,827.1 337.4,828.7 338.2,825.8 335.9,824 338.9,823.9" fill="#000"/>
<polygon points="378.6,820.3 379.6,823.1 382.6,823.2 380.3,825 381.1,827.9 378.6,826.3 376.1,827.9 376.9,825 374.6,823.2 377.6,823.1" fill="#000"/>
<polygon points="331.7,838.7 332.7,841.5 335.7,841.6 333.4,843.4 334.2,846.3 331.7,844.7 329.2,846.3 330,843.4 327.7,841.6 330.7,841.5" fill="#000"/>
<polygon points="331.7,841.6 332.7,844.4 335.7,844.5 333.4,846.3 334.2,849.2 331.7,847.6 329.2,849.2 330,846.3 327.7,844.5 330.7,844.4" fill="#000"/>
<polygon points="349.3,852.5 350.3,855.3 353.3,855.4 351,857.2 351.8,860.1 349.3,858.5 346.8,860.1 347.6,857.2 345.3,855.4 348.3,855.3" fill="#000"/>
<polygon points="355.7,861.2 356.7,864 359.7,864.1 357.4,865.9 358.2,868.8 355.7,867.2 353.2,868.8 354,865.9 351.7,864.1 354.7,864" fill="#000"/>
<polygon points="421.9,818.8 422.9,821.6 425.9,821.7 423.6,823.5 424.4,826.4 421.9,824.8 419.4,826.4 420.2,823.5 417.9,821.7 420.9,821.6" fill="#000"/>
<polygon points="441.5,787.2 442.5,790 445.5,790.1 443.2,791.9 444,794.8 441.5,793.2 439,794.8 439.8,791.9 437.5,790.1 440.5,790" fill="#000"/>
<polygon points="489.3,791.8 490.3,794.6 493.3,794.7 491,796.5 491.8,799.4 489.3,797.8 486.8,799.4 487.6,796.5 485.3,794.7 488.3,794.6" fill="#000"/>
<polygon points="445.9,834 446.9,836.8 449.9,836.9 447.6,838.7 448.4,841.6 445.9,840 443.4,841.6 444.2,838.7 441.9,836.9 444.9,836.8" fill="#000"/>
<text x="359.5" y="799.6" font-size="9.8" text-anchor="middle" fill="#22dd22" stroke="#22dd22" stroke-width="0.25">(r<tspan font-size="0.7em" dy="-0.7em">2</tspan><tspan dy="0.49em">=0.46; p&lt;0.01)</tspan></text>
<text x="451" y="836.8" font-size="9.8" text-anchor="middle" fill="#333" stroke="#333" stroke-width="0.25">(r<tspan font-size="0.7em" dy="-0.7em">2</tspan><tspan dy="0.49em">=0.75; p&lt;0.01)</tspan></text>
<text x="265.5" y="921.4" font-size="9.8" text-anchor="middle" fill="#ff33ff" stroke="#ff33ff" stroke-width="0.25">(r<tspan font-size="0.7em" dy="-0.7em">2</tspan><tspan dy="0.49em">=0.5; p&lt;0.01)</tspan></text>
<rect x="161.4" y="707.4" width="87" height="49.6" fill="#fff" stroke="#4a4a4a" stroke-width="1"/>
<polygon points="179.3,716 180.2,718.5 182.9,718.6 180.8,720.3 181.5,722.9 179.3,721.4 177.1,722.9 177.8,720.3 175.7,718.6 178.4,718.5" fill="#000"/>
<circle cx="179.3" cy="732.2" r="3.1" fill="#00ff00" stroke="#333" stroke-width="0.9"/>
<circle cx="179.3" cy="744.6" r="3.1" fill="#ff00ff" stroke="#333" stroke-width="0.9"/>
<text x="196.2" y="723.4" font-size="10" text-anchor="start" fill="#1a1a1a" stroke="#1a1a1a" stroke-width="0.25">Model</text>
<text x="196.2" y="735.8" font-size="10" text-anchor="start" fill="#1a1a1a" stroke="#1a1a1a" stroke-width="0.25">MODIS</text>
<text x="196.2" y="748.2" font-size="10" text-anchor="start" fill="#1a1a1a" stroke="#1a1a1a" stroke-width="0.25">SEAWIFS</text>
</svg>
</body></html>
